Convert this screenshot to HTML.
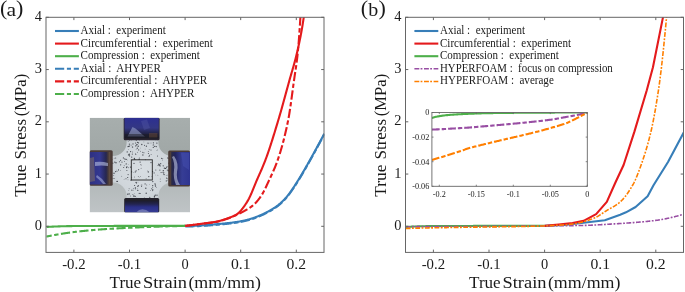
<!DOCTYPE html>
<html><head><meta charset="utf-8"><title>Stress-strain</title>
<style>html,body{margin:0;padding:0;background:#fff;overflow:hidden}svg{display:block;will-change:transform}</style>
</head><body>
<svg width="685" height="292" viewBox="0 0 685 292">
<defs>
<clipPath id="ca"><rect x="46.30" y="17.30" width="278.00" height="235.10"/></clipPath>
<clipPath id="cb"><rect x="405.70" y="17.30" width="278.00" height="235.10"/></clipPath>
<clipPath id="ci"><rect x="431.9" y="112.5" width="155.4" height="73.8"/></clipPath>
<clipPath id="cp"><rect x="89.6" y="117.7" width="100.4" height="94.8"/></clipPath>
<linearGradient id="bg" x1="0" y1="0" x2="0" y2="1"><stop offset="0" stop-color="#a7aead"/><stop offset="0.35" stop-color="#a1a8a7"/><stop offset="0.72" stop-color="#b4babb"/><stop offset="1" stop-color="#bfc4c6"/></linearGradient>
<radialGradient id="sp" cx="0.5" cy="0.5" r="0.6"><stop offset="0" stop-color="#d8dde2"/><stop offset="0.6" stop-color="#d0d6db"/><stop offset="1" stop-color="#c2c8cd"/></radialGradient>
<linearGradient id="gt" x1="0" y1="0" x2="0" y2="1"><stop offset="0" stop-color="#2d2f92"/><stop offset="0.5" stop-color="#333783"/><stop offset="0.75" stop-color="#23244a"/><stop offset="1" stop-color="#1a1a22"/></linearGradient>
<linearGradient id="gl" x1="0" y1="0" x2="1" y2="0"><stop offset="0" stop-color="#2e3080"/><stop offset="0.5" stop-color="#343891"/><stop offset="0.8" stop-color="#262750"/><stop offset="0.9" stop-color="#46393a"/><stop offset="1" stop-color="#6a5444"/></linearGradient>
<linearGradient id="gr" x1="0" y1="0" x2="1" y2="0"><stop offset="0" stop-color="#5a4638"/><stop offset="0.08" stop-color="#2a2a48"/><stop offset="0.25" stop-color="#22245e"/><stop offset="0.6" stop-color="#363d95"/><stop offset="1" stop-color="#2e3490"/></linearGradient>
<linearGradient id="gb" x1="0" y1="0" x2="0" y2="1"><stop offset="0" stop-color="#1c1c2a"/><stop offset="0.3" stop-color="#23244f"/><stop offset="0.55" stop-color="#2b3088"/><stop offset="1" stop-color="#363c94"/></linearGradient>
</defs>
<style>text{font-family:"Liberation Serif",serif;fill:#1a1a1a}.tk{font-size:14.4px}.al{font-size:16.2px}.lg{font-size:11.8px}.pl{font-size:22px}.pl2{font-size:18px}.it{font-size:8.2px}</style>
<rect width="685" height="292" fill="#fff"/>
<text x="0.00" y="15.40" class="pl">(</text><text x="6.40" y="15.60" class="pl2" textLength="9.60" lengthAdjust="spacingAndGlyphs">a</text><text x="16.00" y="15.40" class="pl">)</text>
<text x="73.90" y="269.20" class="tk" text-anchor="middle" textLength="23.40" lengthAdjust="spacingAndGlyphs">-0.2</text>
<text x="129.50" y="269.20" class="tk" text-anchor="middle" textLength="23.40" lengthAdjust="spacingAndGlyphs">-0.1</text>
<text x="185.10" y="269.20" class="tk" text-anchor="middle">0</text>
<text x="240.70" y="269.20" class="tk" text-anchor="middle" textLength="19.60" lengthAdjust="spacingAndGlyphs">0.1</text>
<text x="296.30" y="269.20" class="tk" text-anchor="middle" textLength="19.60" lengthAdjust="spacingAndGlyphs">0.2</text>
<text x="42.00" y="229.80" class="tk" text-anchor="end">0</text>
<text x="42.00" y="177.55" class="tk" text-anchor="end">1</text>
<text x="42.00" y="125.30" class="tk" text-anchor="end">2</text>
<text x="42.00" y="73.05" class="tk" text-anchor="end">3</text>
<text x="42.00" y="20.80" class="tk" text-anchor="end">4</text>
<text x="109.60" y="287.80" class="al" textLength="31.60" lengthAdjust="spacingAndGlyphs">True</text>
<text x="143.00" y="287.80" class="al" textLength="44.00" lengthAdjust="spacingAndGlyphs">Strain</text>
<text x="188.40" y="287.80" class="al" textLength="72.60" lengthAdjust="spacingAndGlyphs">(mm/mm)</text>
<g transform="translate(26.40,0) rotate(-90)"><text x="-196.70" y="0.00" class="al" textLength="32.20" lengthAdjust="spacingAndGlyphs">True</text><text x="-159.50" y="0.00" class="al" textLength="40.60" lengthAdjust="spacingAndGlyphs">Stress</text><text x="-116.20" y="0.00" class="al" textLength="42.40" lengthAdjust="spacingAndGlyphs">(MPa)</text></g>
<g clip-path="url(#cp)">
<rect x="89.6" y="117.7" width="100.4" height="94.7" fill="url(#bg)"/>
<path d="M126.6,136 V142.5 A13.6,13.6 0 0 1 113,156.1 H108 V182.6 H113 A13.6,13.6 0 0 1 126.6,196.2 V203 H158.4 V196.2 A13.6,13.6 0 0 1 172,182.6 H177 V156.1 H172 A13.6,13.6 0 0 1 158.4,142.5 V136 Z" fill="url(#sp)"/>
<g fill="#2a2d35" opacity="0.85"><circle cx="140.5" cy="136.8" r="0.49"/><circle cx="156.9" cy="143.1" r="0.66"/><circle cx="150.4" cy="137.3" r="0.35"/><circle cx="129.2" cy="146.3" r="0.60"/><circle cx="162.8" cy="158.4" r="0.43"/><circle cx="155.8" cy="175.0" r="0.32"/><circle cx="140.1" cy="162.1" r="0.59"/><circle cx="148.3" cy="171.9" r="0.69"/><circle cx="130.6" cy="151.6" r="0.62"/><circle cx="112.3" cy="159.7" r="0.33"/><circle cx="129.4" cy="140.6" r="0.42"/><circle cx="161.1" cy="172.5" r="0.55"/><circle cx="132.2" cy="147.0" r="0.47"/><circle cx="157.1" cy="140.1" r="0.31"/><circle cx="155.0" cy="183.8" r="0.67"/><circle cx="134.8" cy="159.3" r="0.61"/><circle cx="151.7" cy="188.7" r="0.56"/><circle cx="172.1" cy="157.7" r="0.60"/><circle cx="171.6" cy="157.7" r="0.54"/><circle cx="138.3" cy="176.5" r="0.47"/><circle cx="132.6" cy="147.0" r="0.62"/><circle cx="166.6" cy="178.1" r="0.58"/><circle cx="146.1" cy="178.8" r="0.43"/><circle cx="128.2" cy="164.5" r="0.34"/><circle cx="128.2" cy="141.6" r="0.44"/><circle cx="155.5" cy="199.3" r="0.55"/><circle cx="126.0" cy="178.7" r="0.55"/><circle cx="163.3" cy="170.7" r="0.66"/><circle cx="135.8" cy="154.6" r="0.51"/><circle cx="141.1" cy="168.3" r="0.48"/><circle cx="144.9" cy="199.1" r="0.67"/><circle cx="145.3" cy="159.8" r="0.43"/><circle cx="136.2" cy="198.4" r="0.54"/><circle cx="170.5" cy="171.0" r="0.39"/><circle cx="155.8" cy="169.9" r="0.50"/><circle cx="172.7" cy="159.3" r="0.32"/><circle cx="145.1" cy="183.9" r="0.56"/><circle cx="155.3" cy="139.6" r="0.64"/><circle cx="159.4" cy="165.5" r="0.49"/><circle cx="169.3" cy="159.1" r="0.32"/><circle cx="149.1" cy="156.3" r="0.57"/><circle cx="171.5" cy="159.4" r="0.40"/><circle cx="155.3" cy="195.2" r="0.63"/><circle cx="128.0" cy="179.8" r="0.40"/><circle cx="129.5" cy="155.4" r="0.31"/><circle cx="136.3" cy="140.3" r="0.53"/><circle cx="154.1" cy="172.9" r="0.54"/><circle cx="168.5" cy="170.5" r="0.64"/><circle cx="131.6" cy="145.1" r="0.39"/><circle cx="144.5" cy="145.3" r="0.55"/><circle cx="133.4" cy="195.0" r="0.39"/><circle cx="123.7" cy="167.4" r="0.50"/><circle cx="120.6" cy="160.3" r="0.57"/><circle cx="139.5" cy="139.9" r="0.47"/><circle cx="158.8" cy="164.2" r="0.68"/><circle cx="128.1" cy="174.6" r="0.53"/><circle cx="137.5" cy="152.3" r="0.43"/><circle cx="151.1" cy="154.5" r="0.44"/><circle cx="131.7" cy="157.1" r="0.63"/><circle cx="144.6" cy="137.2" r="0.60"/><circle cx="141.6" cy="186.6" r="0.50"/><circle cx="128.8" cy="190.6" r="0.37"/><circle cx="126.6" cy="167.5" r="0.64"/><circle cx="115.7" cy="158.0" r="0.51"/><circle cx="153.4" cy="142.8" r="0.60"/><circle cx="129.1" cy="193.9" r="0.70"/><circle cx="152.7" cy="185.7" r="0.63"/><circle cx="128.3" cy="149.6" r="0.33"/><circle cx="133.2" cy="172.6" r="0.31"/><circle cx="114.0" cy="178.5" r="0.57"/><circle cx="109.9" cy="178.2" r="0.41"/><circle cx="124.1" cy="179.2" r="0.35"/><circle cx="143.9" cy="141.9" r="0.33"/><circle cx="152.8" cy="187.5" r="0.48"/><circle cx="138.3" cy="185.6" r="0.56"/><circle cx="138.0" cy="182.1" r="0.31"/><circle cx="139.2" cy="193.3" r="0.61"/><circle cx="151.9" cy="176.4" r="0.42"/><circle cx="134.4" cy="177.0" r="0.43"/><circle cx="137.4" cy="142.4" r="0.55"/><circle cx="168.1" cy="158.2" r="0.68"/><circle cx="136.1" cy="170.8" r="0.58"/><circle cx="141.9" cy="185.0" r="0.49"/><circle cx="156.3" cy="150.5" r="0.33"/><circle cx="129.3" cy="154.3" r="0.68"/><circle cx="172.4" cy="181.5" r="0.68"/><circle cx="149.4" cy="155.2" r="0.54"/><circle cx="151.0" cy="143.0" r="0.39"/><circle cx="127.5" cy="166.8" r="0.39"/><circle cx="158.5" cy="165.3" r="0.46"/><circle cx="146.4" cy="146.2" r="0.66"/><circle cx="115.7" cy="171.6" r="0.69"/><circle cx="117.3" cy="181.4" r="0.69"/><circle cx="174.7" cy="158.6" r="0.55"/><circle cx="171.1" cy="176.6" r="0.65"/><circle cx="154.7" cy="138.4" r="0.44"/><circle cx="167.9" cy="166.5" r="0.47"/><circle cx="128.4" cy="146.4" r="0.57"/><circle cx="134.5" cy="193.3" r="0.32"/><circle cx="163.2" cy="165.8" r="0.60"/><circle cx="138.2" cy="146.3" r="0.68"/><circle cx="151.0" cy="150.0" r="0.54"/><circle cx="122.0" cy="162.1" r="0.54"/><circle cx="148.9" cy="143.0" r="0.38"/><circle cx="138.7" cy="169.6" r="0.53"/><circle cx="162.4" cy="160.0" r="0.38"/><circle cx="126.7" cy="137.6" r="0.45"/><circle cx="150.6" cy="190.7" r="0.39"/><circle cx="155.3" cy="184.9" r="0.58"/><circle cx="172.5" cy="173.7" r="0.48"/><circle cx="144.0" cy="136.3" r="0.30"/><circle cx="131.7" cy="177.7" r="0.46"/><circle cx="167.4" cy="180.1" r="0.47"/><circle cx="154.3" cy="197.1" r="0.56"/><circle cx="152.8" cy="181.6" r="0.67"/><circle cx="132.4" cy="152.1" r="0.48"/><circle cx="133.6" cy="190.1" r="0.35"/><circle cx="131.6" cy="171.8" r="0.64"/><circle cx="137.1" cy="144.5" r="0.36"/><circle cx="137.3" cy="188.8" r="0.33"/><circle cx="111.8" cy="178.5" r="0.62"/><circle cx="111.3" cy="170.0" r="0.36"/><circle cx="148.3" cy="143.3" r="0.35"/><circle cx="144.2" cy="197.6" r="0.31"/><circle cx="126.2" cy="163.9" r="0.64"/><circle cx="126.8" cy="166.7" r="0.49"/><circle cx="141.5" cy="165.0" r="0.38"/><circle cx="141.8" cy="144.5" r="0.65"/><circle cx="136.5" cy="200.9" r="0.57"/><circle cx="127.7" cy="177.5" r="0.61"/><circle cx="126.1" cy="159.4" r="0.69"/><circle cx="119.4" cy="161.8" r="0.53"/><circle cx="145.1" cy="149.1" r="0.32"/><circle cx="134.6" cy="185.5" r="0.57"/><circle cx="135.4" cy="188.0" r="0.70"/><circle cx="140.2" cy="193.5" r="0.51"/><circle cx="134.0" cy="200.3" r="0.61"/><circle cx="117.1" cy="171.2" r="0.45"/><circle cx="141.2" cy="185.1" r="0.43"/><circle cx="148.3" cy="151.5" r="0.48"/><circle cx="132.3" cy="154.1" r="0.54"/><circle cx="139.8" cy="200.2" r="0.42"/><circle cx="120.7" cy="164.8" r="0.58"/><circle cx="135.6" cy="143.0" r="0.61"/><circle cx="140.6" cy="148.0" r="0.32"/><circle cx="142.9" cy="155.0" r="0.63"/><circle cx="168.8" cy="163.2" r="0.64"/><circle cx="146.2" cy="193.3" r="0.68"/><circle cx="154.5" cy="196.2" r="0.69"/><circle cx="171.0" cy="175.6" r="0.63"/><circle cx="173.3" cy="166.6" r="0.39"/><circle cx="152.6" cy="139.6" r="0.42"/><circle cx="133.2" cy="188.3" r="0.31"/><circle cx="129.6" cy="155.9" r="0.57"/><circle cx="166.6" cy="167.2" r="0.64"/><circle cx="148.4" cy="153.4" r="0.52"/><circle cx="135.1" cy="138.4" r="0.58"/><circle cx="166.2" cy="175.6" r="0.36"/><circle cx="136.1" cy="149.2" r="0.37"/><circle cx="127.7" cy="194.2" r="0.64"/><circle cx="151.0" cy="162.6" r="0.65"/><circle cx="127.2" cy="151.9" r="0.63"/><circle cx="131.2" cy="138.2" r="0.39"/><circle cx="149.2" cy="149.6" r="0.43"/><circle cx="160.7" cy="163.7" r="0.59"/><circle cx="118.5" cy="169.9" r="0.58"/><circle cx="157.9" cy="175.2" r="0.37"/><circle cx="130.5" cy="200.6" r="0.48"/><circle cx="153.4" cy="147.2" r="0.57"/><circle cx="154.8" cy="146.4" r="0.68"/><circle cx="134.4" cy="158.5" r="0.67"/><circle cx="164.2" cy="172.5" r="0.32"/><circle cx="140.6" cy="176.4" r="0.38"/><circle cx="139.2" cy="177.7" r="0.32"/><circle cx="134.0" cy="195.9" r="0.56"/><circle cx="139.1" cy="159.3" r="0.67"/><circle cx="131.9" cy="190.2" r="0.58"/><circle cx="133.8" cy="188.3" r="0.34"/><circle cx="152.6" cy="171.6" r="0.66"/><circle cx="167.3" cy="170.0" r="0.56"/><circle cx="114.8" cy="162.1" r="0.68"/><circle cx="170.9" cy="163.0" r="0.40"/><circle cx="172.3" cy="168.6" r="0.68"/><circle cx="110.4" cy="174.6" r="0.41"/><circle cx="108.3" cy="167.7" r="0.68"/><circle cx="138.7" cy="149.9" r="0.58"/><circle cx="160.1" cy="165.9" r="0.60"/><circle cx="134.0" cy="196.3" r="0.58"/><circle cx="152.8" cy="189.5" r="0.59"/><circle cx="161.7" cy="158.4" r="0.55"/><circle cx="120.3" cy="170.3" r="0.37"/><circle cx="159.6" cy="164.9" r="0.60"/><circle cx="132.1" cy="198.7" r="0.50"/><circle cx="153.0" cy="147.3" r="0.36"/><circle cx="147.8" cy="142.9" r="0.44"/><circle cx="146.7" cy="185.0" r="0.47"/><circle cx="129.1" cy="188.8" r="0.46"/><circle cx="149.8" cy="197.4" r="0.54"/><circle cx="164.4" cy="168.2" r="0.66"/><circle cx="135.4" cy="196.3" r="0.56"/><circle cx="132.5" cy="194.6" r="0.41"/><circle cx="110.8" cy="167.9" r="0.45"/><circle cx="167.5" cy="157.3" r="0.36"/><circle cx="116.0" cy="162.7" r="0.69"/><circle cx="168.1" cy="170.8" r="0.51"/><circle cx="149.6" cy="184.3" r="0.32"/><circle cx="139.3" cy="157.9" r="0.50"/><circle cx="129.3" cy="144.1" r="0.59"/><circle cx="167.6" cy="178.3" r="0.42"/><circle cx="137.3" cy="148.2" r="0.67"/><circle cx="124.8" cy="158.9" r="0.56"/><circle cx="157.4" cy="165.3" r="0.36"/><circle cx="135.5" cy="189.1" r="0.41"/><circle cx="135.4" cy="153.8" r="0.45"/><circle cx="130.5" cy="167.1" r="0.63"/><circle cx="131.0" cy="180.2" r="0.59"/><circle cx="157.3" cy="150.0" r="0.39"/><circle cx="174.2" cy="174.2" r="0.60"/><circle cx="121.7" cy="176.2" r="0.42"/><circle cx="140.5" cy="164.8" r="0.44"/><circle cx="157.5" cy="156.0" r="0.54"/><circle cx="136.0" cy="199.5" r="0.63"/><circle cx="167.2" cy="175.1" r="0.45"/><circle cx="160.2" cy="179.0" r="0.46"/><circle cx="163.7" cy="173.8" r="0.50"/><circle cx="153.2" cy="145.0" r="0.58"/><circle cx="137.1" cy="144.4" r="0.52"/><circle cx="124.6" cy="161.5" r="0.49"/><circle cx="140.6" cy="151.3" r="0.43"/><circle cx="114.0" cy="173.2" r="0.70"/><circle cx="147.4" cy="170.9" r="0.38"/><circle cx="153.7" cy="144.8" r="0.38"/><circle cx="160.2" cy="181.6" r="0.46"/><circle cx="152.7" cy="190.6" r="0.59"/><circle cx="157.0" cy="195.2" r="0.62"/><circle cx="137.8" cy="186.4" r="0.56"/><circle cx="147.2" cy="143.4" r="0.31"/><circle cx="133.0" cy="143.9" r="0.56"/><circle cx="137.8" cy="190.4" r="0.59"/><circle cx="172.8" cy="169.1" r="0.53"/><circle cx="156.3" cy="187.7" r="0.40"/><circle cx="145.8" cy="188.3" r="0.68"/><circle cx="135.7" cy="145.9" r="0.59"/><circle cx="133.6" cy="138.9" r="0.34"/><circle cx="147.5" cy="138.3" r="0.61"/><circle cx="157.7" cy="136.3" r="0.56"/><circle cx="128.5" cy="154.9" r="0.64"/><circle cx="112.8" cy="163.1" r="0.68"/><circle cx="113.8" cy="175.5" r="0.40"/><circle cx="123.4" cy="157.9" r="0.59"/><circle cx="136.1" cy="182.5" r="0.67"/><circle cx="143.9" cy="152.7" r="0.55"/><circle cx="114.2" cy="158.2" r="0.42"/><circle cx="171.9" cy="172.4" r="0.46"/><circle cx="126.9" cy="170.4" r="0.51"/><circle cx="165.6" cy="168.4" r="0.69"/><circle cx="111.4" cy="175.5" r="0.47"/><circle cx="128.4" cy="167.7" r="0.46"/><circle cx="171.0" cy="170.6" r="0.46"/><circle cx="127.3" cy="160.0" r="0.33"/><circle cx="136.6" cy="144.9" r="0.54"/><circle cx="124.2" cy="165.7" r="0.46"/><circle cx="129.8" cy="145.1" r="0.50"/><circle cx="132.9" cy="160.6" r="0.32"/><circle cx="131.2" cy="140.1" r="0.39"/><circle cx="128.5" cy="146.8" r="0.34"/><circle cx="163.1" cy="172.3" r="0.66"/><circle cx="134.0" cy="163.4" r="0.55"/><circle cx="142.7" cy="152.3" r="0.52"/><circle cx="171.3" cy="172.3" r="0.48"/><circle cx="130.4" cy="196.0" r="0.44"/><circle cx="166.3" cy="180.9" r="0.57"/><circle cx="148.8" cy="176.6" r="0.65"/><circle cx="127.7" cy="146.7" r="0.43"/><circle cx="135.3" cy="171.9" r="0.61"/><circle cx="159.9" cy="170.1" r="0.56"/><circle cx="116.8" cy="170.1" r="0.31"/><circle cx="138.5" cy="142.8" r="0.65"/><circle cx="164.1" cy="174.6" r="0.67"/><circle cx="116.6" cy="181.2" r="0.47"/><circle cx="155.5" cy="186.1" r="0.67"/><circle cx="171.6" cy="171.2" r="0.67"/><circle cx="136.5" cy="183.0" r="0.51"/><circle cx="156.3" cy="146.6" r="0.56"/></g>
<rect x="123.7" y="117.7" width="35.9" height="22.5" rx="1.5" fill="#2a2430"/>
<rect x="124.5" y="117.7" width="34.3" height="20.5" fill="url(#gt)"/>
<path d="M127.5,136.5 L132.5,127 L135.5,128.5 L143,135 L145,136.5 Z" fill="#98a2cc" opacity="0.6"/>
<path d="M141,121 L147,119.5 L150,128 L144,130 Z" fill="#5a5fa8" opacity="0.35"/>
<path d="M125,134 L158,134 L158,138.5 L125,138.5 Z" fill="#1a1a24" opacity="0.5"/>
<rect x="149" y="133" width="8.5" height="4.5" fill="#6a4a3a" opacity="0.5"/>
<rect x="89.6" y="150.3" width="23.1" height="35.5" rx="1.5" fill="#4a3a36"/>
<rect x="89.6" y="152" width="20.6" height="32.5" fill="url(#gl)"/>
<path d="M90,158 L94,157 L95,181 L90,182 Z" fill="#7a6a68" opacity="0.6"/>
<path d="M95,162 Q102,161 108,163 L108,166 Q101,165 95,166 Z" fill="#b8c0e0" opacity="0.6"/>
<path d="M97,175 Q102,178 106,184 L103,184 Q100,180 96,177 Z" fill="#a0a8d8" opacity="0.6"/>
<rect x="168.2" y="150.4" width="21.8" height="36" rx="1.5" fill="#4a3a36"/>
<rect x="170.2" y="152" width="19.8" height="33" fill="url(#gr)"/>
<path d="M174,156 Q179,163 177,172 Q176,179 180,185 L176,185 Q173,178 174,170 Q175,163 172,157 Z" fill="#c0c6e0" opacity="0.6"/>
<path d="M181,153 L189,153 L189,170 L183,166 Z" fill="#4550b0" opacity="0.5"/>
<rect x="124.2" y="198" width="35" height="14.4" rx="1.5" fill="#22202a"/>
<rect x="125" y="200.5" width="33.4" height="11.9" fill="url(#gb)"/>
<path d="M136,212.4 Q142,206 150,212.4 Z" fill="#9098c4" opacity="0.6"/>
<rect x="131.3" y="159.8" width="21" height="20.2" fill="none" stroke="#262626" stroke-width="0.9"/>
</g>
<g clip-path="url(#ca)" fill="none" stroke-width="2.1" stroke-linejoin="round">
<path d="M46.30,226.94 L46.65,226.92 L47.00,226.91 L47.35,226.89 L47.69,226.87 L48.04,226.85 L48.39,226.83 L48.74,226.81 L49.09,226.80 L49.44,226.78 L49.78,226.76 L50.13,226.74 L50.48,226.73 L50.83,226.71 L51.18,226.69 L51.53,226.68 L51.87,226.66 L52.22,226.64 L52.57,226.63 L52.92,226.61 L53.27,226.60 L53.62,226.58 L53.96,226.57 L54.31,226.55 L54.66,226.54 L55.01,226.52 L55.36,226.51 L55.71,226.50 L56.05,226.48 L56.40,226.47 L56.75,226.46 L57.10,226.44 L57.45,226.43 L57.80,226.42 L58.14,226.40 L58.49,226.39 L58.84,226.38 L59.19,226.37 L59.54,226.36 L59.89,226.35 L60.23,226.33 L60.58,226.32 L60.93,226.31 L61.28,226.30 L61.63,226.29 L61.98,226.28 L62.33,226.27 L62.67,226.26 L63.02,226.25 L63.37,226.24 L63.72,226.23 L64.07,226.22 L64.42,226.22 L64.76,226.21 L65.11,226.20 L65.46,226.19 L65.81,226.18 L66.16,226.18 L66.51,226.17 L66.85,226.16 L67.20,226.15 L67.55,226.15 L67.90,226.14 L68.25,226.13 L68.60,226.13 L68.94,226.12 L69.29,226.12 L69.64,226.11 L69.99,226.10 L70.34,226.10 L70.69,226.09 L71.03,226.09 L71.38,226.09 L71.73,226.08 L72.08,226.08 L72.43,226.07 L72.78,226.07 L73.12,226.07 L73.47,226.06 L73.82,226.06 L74.17,226.06 L74.52,226.05 L74.87,226.05 L75.21,226.05 L75.56,226.04 L75.91,226.04 L76.26,226.04 L76.61,226.03 L76.96,226.03 L77.31,226.03 L77.65,226.03 L78.00,226.02 L78.35,226.02 L78.70,226.02 L79.05,226.02 L79.40,226.01 L79.74,226.01 L80.09,226.01 L80.44,226.01 L80.79,226.01 L81.14,226.00 L81.49,226.00 L81.83,226.00 L82.18,226.00 L82.53,226.00 L82.88,226.00 L83.23,226.00 L83.58,225.99 L83.92,225.99 L84.27,225.99 L84.62,225.99 L84.97,225.99 L85.32,225.99 L85.67,225.99 L86.01,225.99 L86.36,225.98 L86.71,225.98 L87.06,225.98 L87.41,225.98 L87.76,225.98 L88.10,225.98 L88.45,225.98 L88.80,225.98 L89.15,225.97 L89.50,225.97 L89.85,225.97 L90.19,225.97 L90.54,225.97 L90.89,225.97 L91.24,225.97 L91.59,225.97 L91.94,225.97 L92.28,225.97 L92.63,225.96 L92.98,225.96 L93.33,225.96 L93.68,225.96 L94.03,225.96 L94.38,225.96 L94.72,225.96 L95.07,225.96 L95.42,225.96 L95.77,225.96 L96.12,225.96 L96.47,225.95 L96.81,225.95 L97.16,225.95 L97.51,225.95 L97.86,225.95 L98.21,225.95 L98.56,225.95 L98.90,225.95 L99.25,225.95 L99.60,225.95 L99.95,225.95 L100.30,225.95 L100.65,225.95 L100.99,225.94 L101.34,225.94 L101.69,225.94 L102.04,225.94 L102.39,225.94 L102.74,225.94 L103.08,225.94 L103.43,225.94 L103.78,225.94 L104.13,225.94 L104.48,225.94 L104.83,225.94 L105.17,225.94 L105.52,225.94 L105.87,225.94 L106.22,225.93 L106.57,225.93 L106.92,225.93 L107.26,225.93 L107.61,225.93 L107.96,225.93 L108.31,225.93 L108.66,225.93 L109.01,225.93 L109.36,225.93 L109.70,225.93 L110.05,225.93 L110.40,225.93 L110.75,225.93 L111.10,225.93 L111.45,225.93 L111.79,225.93 L112.14,225.93 L112.49,225.93 L112.84,225.93 L113.19,225.93 L113.54,225.93 L113.88,225.92 L114.23,225.92 L114.58,225.92 L114.93,225.92 L115.28,225.92 L115.63,225.92 L115.97,225.92 L116.32,225.92 L116.67,225.92 L117.02,225.92 L117.37,225.92 L117.72,225.92 L118.06,225.92 L118.41,225.92 L118.76,225.92 L119.11,225.92 L119.46,225.92 L119.81,225.92 L120.15,225.92 L120.50,225.92 L120.85,225.92 L121.20,225.92 L121.55,225.92 L121.90,225.92 L122.24,225.92 L122.59,225.92 L122.94,225.92 L123.29,225.92 L123.64,225.92 L123.99,225.92 L124.34,225.92 L124.68,225.92 L125.03,225.92 L125.38,225.92 L125.73,225.92 L126.08,225.92 L126.43,225.92 L126.77,225.92 L127.12,225.92 L127.47,225.92 L127.82,225.91 L128.17,225.91 L128.52,225.91 L128.86,225.91 L129.21,225.91 L129.56,225.91 L129.91,225.91 L130.26,225.91 L130.61,225.91 L130.95,225.91 L131.30,225.91 L131.65,225.91 L132.00,225.91 L132.35,225.91 L132.70,225.91 L133.04,225.91 L133.39,225.91 L133.74,225.91 L134.09,225.91 L134.44,225.91 L134.79,225.91 L135.13,225.91 L135.48,225.91 L135.83,225.91 L136.18,225.91 L136.53,225.91 L136.88,225.91 L137.22,225.91 L137.57,225.91 L137.92,225.91 L138.27,225.91 L138.62,225.91 L138.97,225.91 L139.32,225.91 L139.66,225.91 L140.01,225.91 L140.36,225.91 L140.71,225.91 L141.06,225.91 L141.41,225.91 L141.75,225.91 L142.10,225.91 L142.45,225.91 L142.80,225.91 L143.15,225.91 L143.50,225.91 L143.84,225.91 L144.19,225.91 L144.54,225.91 L144.89,225.91 L145.24,225.91 L145.59,225.91 L145.93,225.91 L146.28,225.91 L146.63,225.91 L146.98,225.91 L147.33,225.91 L147.68,225.91 L148.02,225.91 L148.37,225.91 L148.72,225.91 L149.07,225.91 L149.42,225.91 L149.77,225.91 L150.11,225.91 L150.46,225.91 L150.81,225.91 L151.16,225.91 L151.51,225.91 L151.86,225.91 L152.20,225.91 L152.55,225.91 L152.90,225.90 L153.25,225.90 L153.60,225.90 L153.95,225.90 L154.29,225.90 L154.64,225.90 L154.99,225.90 L155.34,225.90 L155.69,225.90 L156.04,225.90 L156.39,225.90 L156.73,225.90 L157.08,225.90 L157.43,225.90 L157.78,225.90 L158.13,225.90 L158.48,225.90 L158.82,225.90 L159.17,225.90 L159.52,225.90 L159.87,225.90 L160.22,225.90 L160.57,225.90 L160.91,225.90 L161.26,225.90 L161.61,225.90 L161.96,225.90 L162.31,225.90 L162.66,225.90 L163.00,225.90 L163.35,225.90 L163.70,225.90 L164.05,225.90 L164.40,225.90 L164.75,225.90 L165.09,225.90 L165.44,225.90 L165.79,225.90 L166.14,225.90 L166.49,225.90 L166.84,225.90 L167.18,225.90 L167.53,225.90 L167.88,225.90 L168.23,225.90 L168.58,225.90 L168.93,225.90 L169.27,225.90 L169.62,225.90 L169.97,225.90 L170.32,225.90 L170.67,225.90 L171.02,225.90 L171.37,225.90 L171.71,225.90 L172.06,225.90 L172.41,225.90 L172.76,225.90 L173.11,225.90 L173.46,225.90 L173.80,225.90 L174.15,225.90 L174.50,225.90 L174.85,225.90 L175.20,225.90 L175.55,225.90 L175.89,225.90 L176.24,225.90 L176.59,225.90 L176.94,225.90 L177.29,225.90 L177.64,225.90 L177.98,225.90 L178.33,225.90 L178.68,225.90 L179.03,225.90 L179.38,225.90 L179.73,225.90 L180.07,225.90 L180.42,225.90 L180.77,225.90 L181.12,225.90 L181.47,225.90 L181.82,225.90 L182.16,225.90 L182.51,225.90 L182.86,225.90 L183.21,225.90 L183.56,225.90 L183.91,225.90 L184.25,225.90 L184.60,225.90 L184.95,225.90 L185.30,225.90" stroke="#4daf4a"/>
<path d="M46.30,236.60 L46.65,236.53 L47.00,236.46 L47.35,236.39 L47.69,236.32 L48.04,236.26 L48.39,236.19 L48.74,236.12 L49.09,236.05 L49.44,235.98 L49.78,235.92 L50.13,235.85 L50.48,235.78 L50.83,235.72 L51.18,235.65 L51.53,235.58 L51.87,235.52 L52.22,235.45 L52.57,235.39 L52.92,235.32 L53.27,235.26 L53.62,235.19 L53.96,235.13 L54.31,235.06 L54.66,235.00 L55.01,234.94 L55.36,234.87 L55.71,234.81 L56.05,234.75 L56.40,234.69 L56.75,234.62 L57.10,234.56 L57.45,234.50 L57.80,234.44 L58.14,234.38 L58.49,234.32 L58.84,234.26 L59.19,234.20 L59.54,234.14 L59.89,234.08 L60.23,234.02 L60.58,233.97 L60.93,233.91 L61.28,233.85 L61.63,233.79 L61.98,233.74 L62.33,233.68 L62.67,233.63 L63.02,233.57 L63.37,233.51 L63.72,233.46 L64.07,233.40 L64.42,233.35 L64.76,233.30 L65.11,233.24 L65.46,233.19 L65.81,233.14 L66.16,233.09 L66.51,233.03 L66.85,232.98 L67.20,232.93 L67.55,232.88 L67.90,232.83 L68.25,232.78 L68.60,232.73 L68.94,232.68 L69.29,232.63 L69.64,232.59 L69.99,232.54 L70.34,232.49 L70.69,232.44 L71.03,232.40 L71.38,232.35 L71.73,232.31 L72.08,232.26 L72.43,232.22 L72.78,232.17 L73.12,232.13 L73.47,232.08 L73.82,232.04 L74.17,232.00 L74.52,231.96 L74.87,231.92 L75.21,231.87 L75.56,231.83 L75.91,231.79 L76.26,231.75 L76.61,231.71 L76.96,231.67 L77.31,231.63 L77.65,231.59 L78.00,231.55 L78.35,231.51 L78.70,231.47 L79.05,231.43 L79.40,231.39 L79.74,231.35 L80.09,231.31 L80.44,231.28 L80.79,231.24 L81.14,231.20 L81.49,231.16 L81.83,231.13 L82.18,231.09 L82.53,231.05 L82.88,231.01 L83.23,230.98 L83.58,230.94 L83.92,230.91 L84.27,230.87 L84.62,230.83 L84.97,230.80 L85.32,230.76 L85.67,230.73 L86.01,230.69 L86.36,230.66 L86.71,230.63 L87.06,230.59 L87.41,230.56 L87.76,230.52 L88.10,230.49 L88.45,230.46 L88.80,230.43 L89.15,230.39 L89.50,230.36 L89.85,230.33 L90.19,230.30 L90.54,230.26 L90.89,230.23 L91.24,230.20 L91.59,230.17 L91.94,230.14 L92.28,230.11 L92.63,230.08 L92.98,230.05 L93.33,230.02 L93.68,229.99 L94.03,229.96 L94.38,229.93 L94.72,229.90 L95.07,229.87 L95.42,229.84 L95.77,229.81 L96.12,229.78 L96.47,229.76 L96.81,229.73 L97.16,229.70 L97.51,229.67 L97.86,229.65 L98.21,229.62 L98.56,229.59 L98.90,229.57 L99.25,229.54 L99.60,229.51 L99.95,229.49 L100.30,229.46 L100.65,229.44 L100.99,229.41 L101.34,229.39 L101.69,229.36 L102.04,229.34 L102.39,229.31 L102.74,229.29 L103.08,229.26 L103.43,229.24 L103.78,229.21 L104.13,229.19 L104.48,229.17 L104.83,229.14 L105.17,229.12 L105.52,229.10 L105.87,229.07 L106.22,229.05 L106.57,229.03 L106.92,229.01 L107.26,228.98 L107.61,228.96 L107.96,228.94 L108.31,228.92 L108.66,228.90 L109.01,228.88 L109.36,228.85 L109.70,228.83 L110.05,228.81 L110.40,228.79 L110.75,228.77 L111.10,228.75 L111.45,228.73 L111.79,228.71 L112.14,228.69 L112.49,228.67 L112.84,228.65 L113.19,228.63 L113.54,228.61 L113.88,228.59 L114.23,228.57 L114.58,228.55 L114.93,228.53 L115.28,228.51 L115.63,228.49 L115.97,228.47 L116.32,228.45 L116.67,228.43 L117.02,228.42 L117.37,228.40 L117.72,228.38 L118.06,228.36 L118.41,228.34 L118.76,228.32 L119.11,228.30 L119.46,228.29 L119.81,228.27 L120.15,228.25 L120.50,228.23 L120.85,228.21 L121.20,228.20 L121.55,228.18 L121.90,228.16 L122.24,228.14 L122.59,228.13 L122.94,228.11 L123.29,228.09 L123.64,228.07 L123.99,228.06 L124.34,228.04 L124.68,228.02 L125.03,228.00 L125.38,227.99 L125.73,227.97 L126.08,227.95 L126.43,227.94 L126.77,227.92 L127.12,227.90 L127.47,227.89 L127.82,227.87 L128.17,227.85 L128.52,227.84 L128.86,227.82 L129.21,227.80 L129.56,227.79 L129.91,227.77 L130.26,227.75 L130.61,227.74 L130.95,227.72 L131.30,227.70 L131.65,227.69 L132.00,227.67 L132.35,227.65 L132.70,227.64 L133.04,227.62 L133.39,227.61 L133.74,227.59 L134.09,227.57 L134.44,227.56 L134.79,227.54 L135.13,227.52 L135.48,227.51 L135.83,227.49 L136.18,227.48 L136.53,227.46 L136.88,227.45 L137.22,227.43 L137.57,227.41 L137.92,227.40 L138.27,227.38 L138.62,227.37 L138.97,227.35 L139.32,227.34 L139.66,227.32 L140.01,227.31 L140.36,227.29 L140.71,227.27 L141.06,227.26 L141.41,227.24 L141.75,227.23 L142.10,227.21 L142.45,227.20 L142.80,227.18 L143.15,227.17 L143.50,227.16 L143.84,227.14 L144.19,227.13 L144.54,227.11 L144.89,227.10 L145.24,227.08 L145.59,227.07 L145.93,227.05 L146.28,227.04 L146.63,227.03 L146.98,227.01 L147.33,227.00 L147.68,226.98 L148.02,226.97 L148.37,226.96 L148.72,226.94 L149.07,226.93 L149.42,226.92 L149.77,226.90 L150.11,226.89 L150.46,226.88 L150.81,226.86 L151.16,226.85 L151.51,226.84 L151.86,226.83 L152.20,226.81 L152.55,226.80 L152.90,226.79 L153.25,226.77 L153.60,226.76 L153.95,226.75 L154.29,226.74 L154.64,226.73 L154.99,226.71 L155.34,226.70 L155.69,226.69 L156.04,226.68 L156.39,226.67 L156.73,226.66 L157.08,226.64 L157.43,226.63 L157.78,226.62 L158.13,226.61 L158.48,226.60 L158.82,226.59 L159.17,226.58 L159.52,226.57 L159.87,226.56 L160.22,226.54 L160.57,226.53 L160.91,226.52 L161.26,226.51 L161.61,226.50 L161.96,226.49 L162.31,226.48 L162.66,226.47 L163.00,226.46 L163.35,226.45 L163.70,226.44 L164.05,226.43 L164.40,226.42 L164.75,226.41 L165.09,226.40 L165.44,226.39 L165.79,226.38 L166.14,226.37 L166.49,226.36 L166.84,226.35 L167.18,226.34 L167.53,226.33 L167.88,226.32 L168.23,226.31 L168.58,226.30 L168.93,226.29 L169.27,226.28 L169.62,226.27 L169.97,226.26 L170.32,226.25 L170.67,226.24 L171.02,226.23 L171.37,226.22 L171.71,226.21 L172.06,226.20 L172.41,226.19 L172.76,226.18 L173.11,226.17 L173.46,226.17 L173.80,226.16 L174.15,226.15 L174.50,226.14 L174.85,226.13 L175.20,226.12 L175.55,226.11 L175.89,226.10 L176.24,226.10 L176.59,226.09 L176.94,226.08 L177.29,226.07 L177.64,226.06 L177.98,226.05 L178.33,226.05 L178.68,226.04 L179.03,226.03 L179.38,226.02 L179.73,226.01 L180.07,226.01 L180.42,226.00 L180.77,225.99 L181.12,225.98 L181.47,225.98 L181.82,225.97 L182.16,225.96 L182.51,225.95 L182.86,225.95 L183.21,225.94 L183.56,225.93 L183.91,225.93 L184.25,225.92 L184.60,225.91 L184.95,225.91 L185.30,225.90" stroke="#4daf4a" stroke-dasharray="9.2 2.5 4.4 2.5" stroke-dashoffset="3.7"/>
<path d="M185.30,225.94 L185.65,225.93 L186.00,225.92 L186.35,225.91 L186.69,225.90 L187.04,225.89 L187.39,225.88 L187.74,225.88 L188.09,225.87 L188.44,225.86 L188.78,225.85 L189.13,225.84 L189.48,225.83 L189.83,225.82 L190.18,225.81 L190.53,225.80 L190.87,225.79 L191.22,225.78 L191.57,225.77 L191.92,225.76 L192.27,225.75 L192.62,225.74 L192.96,225.73 L193.31,225.72 L193.66,225.70 L194.01,225.69 L194.36,225.68 L194.71,225.67 L195.05,225.66 L195.40,225.64 L195.75,225.63 L196.10,225.62 L196.45,225.61 L196.80,225.59 L197.14,225.58 L197.49,225.56 L197.84,225.55 L198.19,225.53 L198.54,225.52 L198.89,225.50 L199.23,225.49 L199.58,225.47 L199.93,225.45 L200.28,225.44 L200.63,225.42 L200.98,225.40 L201.33,225.38 L201.67,225.37 L202.02,225.35 L202.37,225.33 L202.72,225.31 L203.07,225.29 L203.42,225.27 L203.76,225.24 L204.11,225.22 L204.46,225.20 L204.81,225.18 L205.16,225.15 L205.51,225.13 L205.85,225.10 L206.20,225.08 L206.55,225.05 L206.90,225.03 L207.25,225.00 L207.60,224.98 L207.94,224.95 L208.29,224.92 L208.64,224.89 L208.99,224.87 L209.34,224.84 L209.69,224.81 L210.03,224.78 L210.38,224.75 L210.73,224.72 L211.08,224.69 L211.43,224.66 L211.78,224.63 L212.12,224.60 L212.47,224.57 L212.82,224.54 L213.17,224.51 L213.52,224.48 L213.87,224.45 L214.21,224.42 L214.56,224.39 L214.91,224.36 L215.26,224.32 L215.61,224.29 L215.96,224.26 L216.31,224.23 L216.65,224.20 L217.00,224.17 L217.35,224.14 L217.70,224.11 L218.05,224.07 L218.40,224.04 L218.74,224.01 L219.09,223.98 L219.44,223.95 L219.79,223.91 L220.14,223.88 L220.49,223.85 L220.83,223.82 L221.18,223.78 L221.53,223.75 L221.88,223.72 L222.23,223.69 L222.58,223.65 L222.92,223.62 L223.27,223.59 L223.62,223.55 L223.97,223.52 L224.32,223.48 L224.67,223.45 L225.01,223.42 L225.36,223.38 L225.71,223.35 L226.06,223.31 L226.41,223.27 L226.76,223.24 L227.10,223.20 L227.45,223.16 L227.80,223.13 L228.15,223.09 L228.50,223.05 L228.85,223.01 L229.19,222.97 L229.54,222.93 L229.89,222.89 L230.24,222.85 L230.59,222.81 L230.94,222.77 L231.28,222.72 L231.63,222.68 L231.98,222.64 L232.33,222.59 L232.68,222.55 L233.03,222.50 L233.38,222.46 L233.72,222.41 L234.07,222.36 L234.42,222.31 L234.77,222.26 L235.12,222.21 L235.47,222.16 L235.81,222.11 L236.16,222.06 L236.51,222.00 L236.86,221.95 L237.21,221.89 L237.56,221.84 L237.90,221.78 L238.25,221.72 L238.60,221.66 L238.95,221.60 L239.30,221.54 L239.65,221.48 L239.99,221.42 L240.34,221.35 L240.69,221.29 L241.04,221.22 L241.39,221.15 L241.74,221.08 L242.08,221.02 L242.43,220.94 L242.78,220.87 L243.13,220.80 L243.48,220.72 L243.83,220.65 L244.17,220.57 L244.52,220.49 L244.87,220.42 L245.22,220.33 L245.57,220.25 L245.92,220.17 L246.26,220.08 L246.61,220.00 L246.96,219.91 L247.31,219.82 L247.66,219.73 L248.01,219.63 L248.36,219.54 L248.70,219.44 L249.05,219.35 L249.40,219.25 L249.75,219.14 L250.10,219.04 L250.45,218.94 L250.79,218.83 L251.14,218.72 L251.49,218.61 L251.84,218.50 L252.19,218.39 L252.54,218.27 L252.88,218.15 L253.23,218.04 L253.58,217.92 L253.93,217.79 L254.28,217.67 L254.63,217.55 L254.97,217.42 L255.32,217.29 L255.67,217.16 L256.02,217.03 L256.37,216.90 L256.72,216.76 L257.06,216.63 L257.41,216.49 L257.76,216.35 L258.11,216.21 L258.46,216.07 L258.81,215.92 L259.15,215.78 L259.50,215.63 L259.85,215.48 L260.20,215.33 L260.55,215.18 L260.90,215.03 L261.24,214.87 L261.59,214.72 L261.94,214.56 L262.29,214.40 L262.64,214.24 L262.99,214.08 L263.34,213.92 L263.68,213.75 L264.03,213.59 L264.38,213.42 L264.73,213.25 L265.08,213.08 L265.43,212.91 L265.77,212.74 L266.12,212.56 L266.47,212.39 L266.82,212.21 L267.17,212.03 L267.52,211.85 L267.86,211.66 L268.21,211.48 L268.56,211.29 L268.91,211.10 L269.26,210.91 L269.61,210.72 L269.95,210.53 L270.30,210.33 L270.65,210.13 L271.00,209.93 L271.35,209.72 L271.70,209.52 L272.04,209.31 L272.39,209.10 L272.74,208.88 L273.09,208.67 L273.44,208.45 L273.79,208.22 L274.13,208.00 L274.48,207.77 L274.83,207.53 L275.18,207.30 L275.53,207.06 L275.88,206.81 L276.22,206.56 L276.57,206.31 L276.92,206.06 L277.27,205.80 L277.62,205.53 L277.97,205.26 L278.32,204.99 L278.66,204.71 L279.01,204.43 L279.36,204.14 L279.71,203.85 L280.06,203.55 L280.41,203.25 L280.75,202.94 L281.10,202.63 L281.45,202.31 L281.80,201.99 L282.15,201.66 L282.50,201.32 L282.84,200.98 L283.19,200.63 L283.54,200.28 L283.89,199.92 L284.24,199.55 L284.59,199.18 L284.93,198.80 L285.28,198.42 L285.63,198.03 L285.98,197.63 L286.33,197.23 L286.68,196.82 L287.02,196.40 L287.37,195.97 L287.72,195.55 L288.07,195.11 L288.42,194.67 L288.77,194.22 L289.11,193.76 L289.46,193.30 L289.81,192.83 L290.16,192.36 L290.51,191.88 L290.86,191.40 L291.20,190.91 L291.55,190.41 L291.90,189.91 L292.25,189.41 L292.60,188.90 L292.95,188.39 L293.29,187.87 L293.64,187.35 L293.99,186.82 L294.34,186.30 L294.69,185.76 L295.04,185.23 L295.39,184.69 L295.73,184.15 L296.08,183.60 L296.43,183.05 L296.78,182.50 L297.13,181.95 L297.48,181.39 L297.82,180.83 L298.17,180.27 L298.52,179.71 L298.87,179.14 L299.22,178.57 L299.57,178.00 L299.91,177.43 L300.26,176.85 L300.61,176.27 L300.96,175.69 L301.31,175.11 L301.66,174.52 L302.00,173.93 L302.35,173.34 L302.70,172.75 L303.05,172.16 L303.40,171.56 L303.75,170.97 L304.09,170.37 L304.44,169.77 L304.79,169.16 L305.14,168.56 L305.49,167.95 L305.84,167.35 L306.18,166.74 L306.53,166.13 L306.88,165.51 L307.23,164.90 L307.58,164.29 L307.93,163.67 L308.27,163.05 L308.62,162.44 L308.97,161.82 L309.32,161.20 L309.67,160.57 L310.02,159.95 L310.37,159.33 L310.71,158.70 L311.06,158.08 L311.41,157.45 L311.76,156.82 L312.11,156.19 L312.46,155.56 L312.80,154.93 L313.15,154.30 L313.50,153.67 L313.85,153.03 L314.20,152.40 L314.55,151.76 L314.89,151.12 L315.24,150.49 L315.59,149.85 L315.94,149.21 L316.29,148.57 L316.64,147.93 L316.98,147.29 L317.33,146.65 L317.68,146.00 L318.03,145.36 L318.38,144.71 L318.73,144.07 L319.07,143.42 L319.42,142.78 L319.77,142.13 L320.12,141.48 L320.47,140.83 L320.82,140.19 L321.16,139.54 L321.51,138.89 L321.86,138.24 L322.21,137.59 L322.56,136.94 L322.91,136.29 L323.25,135.63 L323.60,134.98 L323.95,134.33 L324.30,133.68" stroke="#377eb8"/>
<path d="M185.30,226.54 L185.65,226.53 L186.00,226.52 L186.35,226.51 L186.69,226.50 L187.04,226.49 L187.39,226.48 L187.74,226.48 L188.09,226.47 L188.44,226.46 L188.78,226.45 L189.13,226.44 L189.48,226.43 L189.83,226.42 L190.18,226.41 L190.53,226.40 L190.87,226.39 L191.22,226.38 L191.57,226.37 L191.92,226.36 L192.27,226.35 L192.62,226.34 L192.96,226.33 L193.31,226.32 L193.66,226.30 L194.01,226.29 L194.36,226.28 L194.71,226.27 L195.05,226.26 L195.40,226.24 L195.75,226.23 L196.10,226.22 L196.45,226.21 L196.80,226.19 L197.14,226.18 L197.49,226.16 L197.84,226.15 L198.19,226.13 L198.54,226.12 L198.89,226.10 L199.23,226.09 L199.58,226.07 L199.93,226.05 L200.28,226.04 L200.63,226.02 L200.98,226.00 L201.33,225.98 L201.67,225.97 L202.02,225.95 L202.37,225.93 L202.72,225.91 L203.07,225.89 L203.42,225.87 L203.76,225.84 L204.11,225.82 L204.46,225.80 L204.81,225.78 L205.16,225.75 L205.51,225.73 L205.85,225.70 L206.20,225.68 L206.55,225.65 L206.90,225.63 L207.25,225.60 L207.60,225.58 L207.94,225.55 L208.29,225.52 L208.64,225.49 L208.99,225.47 L209.34,225.44 L209.69,225.41 L210.03,225.38 L210.38,225.35 L210.73,225.32 L211.08,225.29 L211.43,225.26 L211.78,225.23 L212.12,225.20 L212.47,225.17 L212.82,225.14 L213.17,225.11 L213.52,225.08 L213.87,225.05 L214.21,225.02 L214.56,224.99 L214.91,224.96 L215.26,224.92 L215.61,224.89 L215.96,224.86 L216.31,224.83 L216.65,224.80 L217.00,224.77 L217.35,224.74 L217.70,224.71 L218.05,224.67 L218.40,224.64 L218.74,224.61 L219.09,224.58 L219.44,224.55 L219.79,224.51 L220.14,224.48 L220.49,224.45 L220.83,224.42 L221.18,224.38 L221.53,224.35 L221.88,224.32 L222.23,224.29 L222.58,224.25 L222.92,224.22 L223.27,224.19 L223.62,224.15 L223.97,224.12 L224.32,224.08 L224.67,224.05 L225.01,224.02 L225.36,223.98 L225.71,223.95 L226.06,223.91 L226.41,223.87 L226.76,223.84 L227.10,223.80 L227.45,223.76 L227.80,223.73 L228.15,223.69 L228.50,223.65 L228.85,223.61 L229.19,223.57 L229.54,223.53 L229.89,223.49 L230.24,223.45 L230.59,223.41 L230.94,223.37 L231.28,223.32 L231.63,223.28 L231.98,223.24 L232.33,223.19 L232.68,223.15 L233.03,223.10 L233.38,223.06 L233.72,223.01 L234.07,222.96 L234.42,222.91 L234.77,222.86 L235.12,222.81 L235.47,222.76 L235.81,222.71 L236.16,222.66 L236.51,222.60 L236.86,222.55 L237.21,222.49 L237.56,222.44 L237.90,222.38 L238.25,222.32 L238.60,222.26 L238.95,222.20 L239.30,222.14 L239.65,222.08 L239.99,222.02 L240.34,221.95 L240.69,221.89 L241.04,221.82 L241.39,221.75 L241.74,221.68 L242.08,221.62 L242.43,221.54 L242.78,221.47 L243.13,221.40 L243.48,221.32 L243.83,221.25 L244.17,221.17 L244.52,221.09 L244.87,221.02 L245.22,220.93 L245.57,220.85 L245.92,220.77 L246.26,220.68 L246.61,220.60 L246.96,220.51 L247.31,220.42 L247.66,220.33 L248.01,220.23 L248.36,220.14 L248.70,220.04 L249.05,219.95 L249.40,219.85 L249.75,219.74 L250.10,219.64 L250.45,219.54 L250.79,219.43 L251.14,219.32 L251.49,219.21 L251.84,219.10 L252.19,218.99 L252.54,218.87 L252.88,218.75 L253.23,218.64 L253.58,218.52 L253.93,218.39 L254.28,218.27 L254.63,218.15 L254.97,218.02 L255.32,217.89 L255.67,217.76 L256.02,217.63 L256.37,217.50 L256.72,217.36 L257.06,217.23 L257.41,217.09 L257.76,216.95 L258.11,216.81 L258.46,216.67 L258.81,216.52 L259.15,216.38 L259.50,216.23 L259.85,216.08 L260.20,215.93 L260.55,215.78 L260.90,215.63 L261.24,215.47 L261.59,215.32 L261.94,215.16 L262.29,215.00 L262.64,214.84 L262.99,214.68 L263.34,214.52 L263.68,214.35 L264.03,214.19 L264.38,214.02 L264.73,213.85 L265.08,213.68 L265.43,213.51 L265.77,213.34 L266.12,213.16 L266.47,212.99 L266.82,212.81 L267.17,212.63 L267.52,212.45 L267.86,212.26 L268.21,212.08 L268.56,211.89 L268.91,211.70 L269.26,211.51 L269.61,211.32 L269.95,211.13 L270.30,210.93 L270.65,210.73 L271.00,210.53 L271.35,210.32 L271.70,210.12 L272.04,209.91 L272.39,209.70 L272.74,209.48 L273.09,209.27 L273.44,209.05 L273.79,208.82 L274.13,208.60 L274.48,208.37 L274.83,208.13 L275.18,207.90 L275.53,207.66 L275.88,207.41 L276.22,207.16 L276.57,206.91 L276.92,206.66 L277.27,206.40 L277.62,206.13 L277.97,205.86 L278.32,205.59 L278.66,205.31 L279.01,205.03 L279.36,204.74 L279.71,204.45 L280.06,204.15 L280.41,203.85 L280.75,203.54 L281.10,203.23 L281.45,202.91 L281.80,202.59 L282.15,202.26 L282.50,201.92 L282.84,201.58 L283.19,201.23 L283.54,200.88 L283.89,200.52 L284.24,200.15 L284.59,199.78 L284.93,199.40 L285.28,199.02 L285.63,198.63 L285.98,198.23 L286.33,197.83 L286.68,197.42 L287.02,197.00 L287.37,196.57 L287.72,196.15 L288.07,195.71 L288.42,195.27 L288.77,194.82 L289.11,194.36 L289.46,193.90 L289.81,193.43 L290.16,192.96 L290.51,192.48 L290.86,192.00 L291.20,191.51 L291.55,191.01 L291.90,190.51 L292.25,190.01 L292.60,189.50 L292.95,188.99 L293.29,188.47 L293.64,187.95 L293.99,187.42 L294.34,186.90 L294.69,186.36 L295.04,185.83 L295.39,185.29 L295.73,184.75 L296.08,184.20 L296.43,183.65 L296.78,183.10 L297.13,182.55 L297.48,181.99 L297.82,181.43 L298.17,180.87 L298.52,180.31 L298.87,179.74 L299.22,179.17 L299.57,178.60 L299.91,178.03 L300.26,177.45 L300.61,176.87 L300.96,176.29 L301.31,175.71 L301.66,175.12 L302.00,174.53 L302.35,173.94 L302.70,173.35 L303.05,172.76 L303.40,172.16 L303.75,171.57 L304.09,170.97 L304.44,170.37 L304.79,169.76 L305.14,169.16 L305.49,168.55 L305.84,167.95 L306.18,167.34 L306.53,166.73 L306.88,166.11 L307.23,165.50 L307.58,164.89 L307.93,164.27 L308.27,163.65 L308.62,163.04 L308.97,162.42 L309.32,161.80 L309.67,161.17 L310.02,160.55 L310.37,159.93 L310.71,159.30 L311.06,158.68 L311.41,158.05 L311.76,157.42 L312.11,156.79 L312.46,156.16 L312.80,155.53 L313.15,154.90 L313.50,154.27 L313.85,153.63 L314.20,153.00 L314.55,152.36 L314.89,151.72 L315.24,151.09 L315.59,150.45 L315.94,149.81 L316.29,149.17 L316.64,148.53 L316.98,147.89 L317.33,147.25 L317.68,146.60 L318.03,145.96 L318.38,145.31 L318.73,144.67 L319.07,144.02 L319.42,143.38 L319.77,142.73 L320.12,142.08 L320.47,141.43 L320.82,140.79 L321.16,140.14 L321.51,139.49 L321.86,138.84 L322.21,138.19 L322.56,137.54 L322.91,136.89 L323.25,136.23 L323.60,135.58 L323.95,134.93 L324.30,134.28" stroke="#377eb8" stroke-dasharray="9.2 2.5 4.4 2.5"/>
<path d="M185.30,225.90 L185.61,225.86 L185.91,225.82 L186.22,225.78 L186.53,225.74 L186.83,225.70 L187.14,225.67 L187.45,225.63 L187.75,225.59 L188.06,225.55 L188.37,225.51 L188.67,225.47 L188.98,225.43 L189.29,225.39 L189.59,225.35 L189.90,225.31 L190.21,225.27 L190.51,225.23 L190.82,225.19 L191.12,225.15 L191.43,225.11 L191.74,225.07 L192.04,225.03 L192.35,224.99 L192.66,224.95 L192.96,224.91 L193.27,224.87 L193.58,224.83 L193.88,224.79 L194.19,224.75 L194.50,224.71 L194.80,224.67 L195.11,224.62 L195.42,224.58 L195.72,224.54 L196.03,224.50 L196.34,224.46 L196.64,224.42 L196.95,224.38 L197.26,224.34 L197.56,224.30 L197.87,224.26 L198.18,224.22 L198.48,224.17 L198.79,224.13 L199.10,224.09 L199.40,224.05 L199.71,224.01 L200.02,223.97 L200.32,223.93 L200.63,223.88 L200.93,223.84 L201.24,223.80 L201.55,223.76 L201.85,223.72 L202.16,223.68 L202.47,223.63 L202.77,223.59 L203.08,223.55 L203.39,223.51 L203.69,223.47 L204.00,223.42 L204.31,223.38 L204.61,223.34 L204.92,223.30 L205.23,223.26 L205.53,223.22 L205.84,223.17 L206.15,223.13 L206.45,223.09 L206.76,223.06 L207.07,223.02 L207.37,222.98 L207.68,222.94 L207.99,222.90 L208.29,222.86 L208.60,222.82 L208.91,222.78 L209.21,222.75 L209.52,222.71 L209.83,222.67 L210.13,222.63 L210.44,222.59 L210.75,222.55 L211.05,222.51 L211.36,222.47 L211.66,222.43 L211.97,222.38 L212.28,222.34 L212.58,222.30 L212.89,222.25 L213.20,222.21 L213.50,222.16 L213.81,222.11 L214.12,222.06 L214.42,222.01 L214.73,221.96 L215.04,221.91 L215.34,221.85 L215.65,221.80 L215.96,221.74 L216.26,221.68 L216.57,221.62 L216.88,221.56 L217.18,221.49 L217.49,221.43 L217.80,221.36 L218.10,221.28 L218.41,221.21 L218.72,221.14 L219.02,221.06 L219.33,220.98 L219.64,220.90 L219.94,220.82 L220.25,220.73 L220.56,220.65 L220.86,220.56 L221.17,220.47 L221.47,220.38 L221.78,220.29 L222.09,220.20 L222.39,220.10 L222.70,220.01 L223.01,219.91 L223.31,219.81 L223.62,219.72 L223.93,219.62 L224.23,219.52 L224.54,219.41 L224.85,219.31 L225.15,219.21 L225.46,219.10 L225.77,219.00 L226.07,218.89 L226.38,218.79 L226.69,218.68 L226.99,218.57 L227.30,218.47 L227.61,218.36 L227.91,218.25 L228.22,218.15 L228.53,218.04 L228.83,217.93 L229.14,217.82 L229.45,217.71 L229.75,217.60 L230.06,217.48 L230.37,217.37 L230.67,217.25 L230.98,217.13 L231.28,217.01 L231.59,216.89 L231.90,216.76 L232.20,216.64 L232.51,216.50 L232.82,216.37 L233.12,216.23 L233.43,216.09 L233.74,215.94 L234.04,215.79 L234.35,215.64 L234.66,215.48 L234.96,215.32 L235.27,215.15 L235.58,214.98 L235.88,214.80 L236.19,214.61 L236.50,214.43 L236.80,214.23 L237.11,214.03 L237.42,213.81 L237.72,213.58 L238.03,213.34 L238.34,213.08 L238.64,212.82 L238.95,212.54 L239.26,212.25 L239.56,211.95 L239.87,211.63 L240.18,211.31 L240.48,210.98 L240.79,210.63 L241.10,210.28 L241.40,209.92 L241.71,209.54 L242.01,209.16 L242.32,208.77 L242.63,208.38 L242.93,207.97 L243.24,207.56 L243.55,207.14 L243.85,206.71 L244.16,206.28 L244.47,205.84 L244.77,205.39 L245.08,204.94 L245.39,204.49 L245.69,204.02 L246.00,203.56 L246.31,203.09 L246.61,202.61 L246.92,202.13 L247.23,201.65 L247.53,201.16 L247.84,200.65 L248.15,200.12 L248.45,199.57 L248.76,198.99 L249.07,198.40 L249.37,197.78 L249.68,197.15 L249.99,196.50 L250.29,195.84 L250.60,195.16 L250.91,194.47 L251.21,193.77 L251.52,193.06 L251.82,192.33 L252.13,191.60 L252.44,190.87 L252.74,190.12 L253.05,189.37 L253.36,188.62 L253.66,187.87 L253.97,187.11 L254.28,186.35 L254.58,185.60 L254.89,184.85 L255.20,184.10 L255.50,183.35 L255.81,182.61 L256.12,181.88 L256.42,181.15 L256.73,180.44 L257.04,179.73 L257.34,179.03 L257.65,178.33 L257.96,177.64 L258.26,176.95 L258.57,176.26 L258.88,175.57 L259.18,174.88 L259.49,174.19 L259.80,173.50 L260.10,172.81 L260.41,172.11 L260.72,171.42 L261.02,170.72 L261.33,170.02 L261.64,169.31 L261.94,168.60 L262.25,167.89 L262.55,167.16 L262.86,166.44 L263.17,165.70 L263.47,164.96 L263.78,164.20 L264.09,163.44 L264.39,162.67 L264.70,161.89 L265.01,161.10 L265.31,160.30 L265.62,159.49 L265.93,158.67 L266.23,157.84 L266.54,157.00 L266.85,156.15 L267.15,155.29 L267.46,154.42 L267.77,153.55 L268.07,152.66 L268.38,151.77 L268.69,150.88 L268.99,149.97 L269.30,149.06 L269.61,148.14 L269.91,147.21 L270.22,146.28 L270.53,145.34 L270.83,144.40 L271.14,143.45 L271.45,142.49 L271.75,141.53 L272.06,140.57 L272.36,139.60 L272.67,138.62 L272.98,137.64 L273.28,136.66 L273.59,135.67 L273.90,134.68 L274.20,133.69 L274.51,132.69 L274.82,131.69 L275.12,130.69 L275.43,129.68 L275.74,128.67 L276.04,127.66 L276.35,126.65 L276.66,125.64 L276.96,124.62 L277.27,123.60 L277.58,122.59 L277.88,121.57 L278.19,120.55 L278.50,119.53 L278.80,118.50 L279.11,117.47 L279.42,116.42 L279.72,115.37 L280.03,114.32 L280.34,113.25 L280.64,112.18 L280.95,111.11 L281.26,110.03 L281.56,108.94 L281.87,107.85 L282.17,106.75 L282.48,105.65 L282.79,104.55 L283.09,103.44 L283.40,102.33 L283.71,101.22 L284.01,100.10 L284.32,98.98 L284.63,97.86 L284.93,96.74 L285.24,95.62 L285.55,94.50 L285.85,93.37 L286.16,92.25 L286.47,91.13 L286.77,90.01 L287.08,88.89 L287.39,87.77 L287.69,86.65 L288.00,85.53 L288.31,84.42 L288.61,83.31 L288.92,82.20 L289.23,81.10 L289.53,80.00 L289.84,78.91 L290.15,77.83 L290.45,76.76 L290.76,75.70 L291.07,74.64 L291.37,73.59 L291.68,72.54 L291.99,71.49 L292.29,70.44 L292.60,69.39 L292.90,68.33 L293.21,67.26 L293.52,66.19 L293.82,65.10 L294.13,63.99 L294.44,62.87 L294.74,61.73 L295.05,60.58 L295.36,59.40 L295.66,58.19 L295.97,56.96 L296.28,55.72 L296.58,54.45 L296.89,53.17 L297.20,51.88 L297.50,50.57 L297.81,49.23 L298.12,47.88 L298.42,46.51 L298.73,45.11 L299.04,43.69 L299.34,42.24 L299.65,40.77 L299.96,39.28 L300.26,37.75 L300.57,36.20 L300.88,34.61 L301.18,32.99 L301.49,31.34 L301.80,29.62 L302.10,27.85 L302.41,26.03 L302.71,24.14 L303.02,22.19 L303.33,20.19 L303.63,18.13 L303.94,16.00 L304.25,13.81 L304.55,11.57 L304.86,9.26 L305.17,6.89 L305.47,4.46 L305.78,1.97 L306.09,-0.58" stroke="#e41a1c"/>
<path d="M185.30,225.90 L185.59,225.86 L185.89,225.83 L186.18,225.79 L186.47,225.75 L186.76,225.72 L187.06,225.68 L187.35,225.64 L187.64,225.61 L187.93,225.57 L188.23,225.53 L188.52,225.50 L188.81,225.46 L189.10,225.42 L189.40,225.39 L189.69,225.35 L189.98,225.31 L190.27,225.28 L190.57,225.24 L190.86,225.20 L191.15,225.17 L191.45,225.13 L191.74,225.09 L192.03,225.06 L192.32,225.02 L192.62,224.98 L192.91,224.94 L193.20,224.91 L193.49,224.87 L193.79,224.83 L194.08,224.80 L194.37,224.76 L194.66,224.72 L194.96,224.68 L195.25,224.65 L195.54,224.61 L195.83,224.57 L196.13,224.54 L196.42,224.50 L196.71,224.46 L197.01,224.42 L197.30,224.39 L197.59,224.35 L197.88,224.31 L198.18,224.27 L198.47,224.24 L198.76,224.20 L199.05,224.16 L199.35,224.12 L199.64,224.09 L199.93,224.05 L200.22,224.01 L200.52,223.97 L200.81,223.93 L201.10,223.90 L201.39,223.86 L201.69,223.82 L201.98,223.78 L202.27,223.75 L202.57,223.71 L202.86,223.67 L203.15,223.63 L203.44,223.59 L203.74,223.56 L204.03,223.52 L204.32,223.48 L204.61,223.44 L204.91,223.40 L205.20,223.37 L205.49,223.33 L205.78,223.29 L206.08,223.26 L206.37,223.22 L206.66,223.19 L206.95,223.15 L207.25,223.12 L207.54,223.08 L207.83,223.05 L208.13,223.01 L208.42,222.98 L208.71,222.95 L209.00,222.91 L209.30,222.88 L209.59,222.84 L209.88,222.81 L210.17,222.77 L210.47,222.74 L210.76,222.70 L211.05,222.67 L211.34,222.63 L211.64,222.59 L211.93,222.56 L212.22,222.52 L212.51,222.48 L212.81,222.44 L213.10,222.40 L213.39,222.36 L213.69,222.32 L213.98,222.27 L214.27,222.23 L214.56,222.18 L214.86,222.14 L215.15,222.09 L215.44,222.04 L215.73,221.99 L216.03,221.94 L216.32,221.88 L216.61,221.83 L216.90,221.77 L217.20,221.71 L217.49,221.64 L217.78,221.58 L218.07,221.51 L218.37,221.44 L218.66,221.37 L218.95,221.30 L219.25,221.23 L219.54,221.15 L219.83,221.07 L220.12,220.99 L220.42,220.91 L220.71,220.83 L221.00,220.75 L221.29,220.66 L221.59,220.58 L221.88,220.49 L222.17,220.40 L222.46,220.31 L222.76,220.22 L223.05,220.13 L223.34,220.04 L223.63,219.94 L223.93,219.85 L224.22,219.75 L224.51,219.66 L224.81,219.56 L225.10,219.47 L225.39,219.37 L225.68,219.27 L225.98,219.18 L226.27,219.08 L226.56,218.98 L226.85,218.88 L227.15,218.79 L227.44,218.69 L227.73,218.58 L228.02,218.48 L228.32,218.38 L228.61,218.27 L228.90,218.16 L229.19,218.05 L229.49,217.94 L229.78,217.83 L230.07,217.72 L230.37,217.60 L230.66,217.49 L230.95,217.37 L231.24,217.26 L231.54,217.14 L231.83,217.02 L232.12,216.90 L232.41,216.77 L232.71,216.65 L233.00,216.53 L233.29,216.40 L233.58,216.28 L233.88,216.15 L234.17,216.02 L234.46,215.89 L234.75,215.77 L235.05,215.64 L235.34,215.51 L235.63,215.38 L235.93,215.24 L236.22,215.11 L236.51,214.98 L236.80,214.85 L237.10,214.71 L237.39,214.58 L237.68,214.44 L237.97,214.31 L238.27,214.17 L238.56,214.03 L238.85,213.88 L239.14,213.74 L239.44,213.59 L239.73,213.44 L240.02,213.29 L240.31,213.14 L240.61,212.99 L240.90,212.83 L241.19,212.67 L241.49,212.51 L241.78,212.35 L242.07,212.19 L242.36,212.04 L242.66,211.88 L242.95,211.72 L243.24,211.56 L243.53,211.40 L243.83,211.25 L244.12,211.09 L244.41,210.93 L244.70,210.77 L245.00,210.61 L245.29,210.44 L245.58,210.28 L245.87,210.12 L246.17,209.95 L246.46,209.79 L246.75,209.62 L247.05,209.45 L247.34,209.27 L247.63,209.10 L247.92,208.92 L248.22,208.74 L248.51,208.56 L248.80,208.38 L249.09,208.19 L249.39,208.00 L249.68,207.81 L249.97,207.61 L250.26,207.41 L250.56,207.21 L250.85,207.00 L251.14,206.79 L251.43,206.58 L251.73,206.36 L252.02,206.14 L252.31,205.91 L252.61,205.68 L252.90,205.44 L253.19,205.20 L253.48,204.96 L253.78,204.71 L254.07,204.44 L254.36,204.17 L254.65,203.89 L254.95,203.61 L255.24,203.31 L255.53,203.01 L255.82,202.70 L256.12,202.38 L256.41,202.06 L256.70,201.72 L256.99,201.38 L257.29,201.03 L257.58,200.68 L257.87,200.32 L258.17,199.95 L258.46,199.57 L258.75,199.19 L259.04,198.80 L259.34,198.41 L259.63,198.01 L259.92,197.60 L260.21,197.19 L260.51,196.77 L260.80,196.35 L261.09,195.92 L261.38,195.48 L261.68,195.04 L261.97,194.59 L262.26,194.12 L262.55,193.63 L262.85,193.13 L263.14,192.61 L263.43,192.08 L263.73,191.54 L264.02,190.98 L264.31,190.41 L264.60,189.83 L264.90,189.25 L265.19,188.65 L265.48,188.04 L265.77,187.43 L266.07,186.81 L266.36,186.19 L266.65,185.56 L266.94,184.92 L267.24,184.29 L267.53,183.65 L267.82,183.01 L268.11,182.37 L268.41,181.74 L268.70,181.10 L268.99,180.46 L269.29,179.83 L269.58,179.20 L269.87,178.58 L270.16,177.95 L270.46,177.33 L270.75,176.70 L271.04,176.08 L271.33,175.45 L271.63,174.82 L271.92,174.19 L272.21,173.55 L272.50,172.91 L272.80,172.27 L273.09,171.62 L273.38,170.96 L273.67,170.29 L273.97,169.62 L274.26,168.94 L274.55,168.25 L274.85,167.55 L275.14,166.84 L275.43,166.11 L275.72,165.38 L276.02,164.63 L276.31,163.87 L276.60,163.10 L276.89,162.30 L277.19,161.50 L277.48,160.68 L277.77,159.84 L278.06,158.99 L278.36,158.12 L278.65,157.25 L278.94,156.36 L279.23,155.46 L279.53,154.55 L279.82,153.63 L280.11,152.69 L280.41,151.74 L280.70,150.78 L280.99,149.80 L281.28,148.80 L281.58,147.79 L281.87,146.77 L282.16,145.73 L282.45,144.67 L282.75,143.59 L283.04,142.50 L283.33,141.39 L283.62,140.26 L283.92,139.12 L284.21,137.95 L284.50,136.77 L284.79,135.57 L285.09,134.35 L285.38,133.10 L285.67,131.84 L285.97,130.55 L286.26,129.25 L286.55,127.92 L286.84,126.57 L287.14,125.20 L287.43,123.80 L287.72,122.39 L288.01,120.94 L288.31,119.47 L288.60,117.93 L288.89,116.29 L289.18,114.58 L289.48,112.79 L289.77,110.93 L290.06,109.01 L290.35,107.04 L290.65,105.01 L290.94,102.95 L291.23,100.85 L291.53,98.72 L291.82,96.57 L292.11,94.41 L292.40,92.24 L292.70,90.06 L292.99,87.89 L293.28,85.73 L293.57,83.59 L293.87,81.47 L294.16,79.39 L294.45,77.36 L294.74,75.39 L295.04,73.46 L295.33,71.53 L295.62,69.59 L295.91,67.61 L296.21,65.56 L296.50,63.44 L296.79,61.20 L297.09,58.84 L297.38,56.31 L297.67,53.61 L297.96,50.67 L298.26,47.45 L298.55,43.98 L298.84,40.28 L299.13,36.36 L299.43,32.26 L299.72,27.98 L300.01,23.56 L300.30,19.01 L300.60,14.27 L300.89,9.15 L301.18,3.69 L301.47,-2.07" stroke="#e41a1c" stroke-dasharray="9.2 2.5 4.4 2.5"/>
</g>
<rect x="46.00" y="17.30" width="278.00" height="235.10" fill="none" stroke="#666" stroke-width="1"/>
<path d="M73.90,252.40V249.60M73.90,17.30V20.10M129.50,252.40V249.60M129.50,17.30V20.10M185.10,252.40V249.60M185.10,17.30V20.10M240.70,252.40V249.60M240.70,17.30V20.10M296.30,252.40V249.60M296.30,17.30V20.10M46.00,226.30H48.80M324.00,226.30H321.20M46.00,174.05H48.80M324.00,174.05H321.20M46.00,121.80H48.80M324.00,121.80H321.20M46.00,69.55H48.80M324.00,69.55H321.20M46.00,17.30H48.80M324.00,17.30H321.20" stroke="#666" stroke-width="1" fill="none"/>
<line x1="55" y1="31.0" x2="78.9" y2="31.0" stroke="#377eb8" stroke-width="2.1"/>
<text x="80.60" y="33.90" class="lg" textLength="85.20" lengthAdjust="spacingAndGlyphs" xml:space="preserve">Axial :  experiment</text>
<line x1="55" y1="43.6" x2="78.9" y2="43.6" stroke="#e41a1c" stroke-width="2.1"/>
<text x="80.60" y="46.50" class="lg" textLength="132.20" lengthAdjust="spacingAndGlyphs" xml:space="preserve">Circumferential :  experiment</text>
<line x1="55" y1="56.2" x2="78.9" y2="56.2" stroke="#4daf4a" stroke-width="2.1"/>
<text x="80.60" y="59.10" class="lg" textLength="119.30" lengthAdjust="spacingAndGlyphs" xml:space="preserve">Compression :  experiment</text>
<line x1="55" y1="68.8" x2="78.9" y2="68.8" stroke="#377eb8" stroke-width="2.1" stroke-dasharray="9.2 2.7 4.1 2.8"/>
<text x="80.60" y="71.70" class="lg" textLength="80.30" lengthAdjust="spacingAndGlyphs" xml:space="preserve">Axial :  AHYPER</text>
<line x1="55" y1="81.4" x2="78.9" y2="81.4" stroke="#e41a1c" stroke-width="2.1" stroke-dasharray="9.2 2.7 4.1 2.8"/>
<text x="80.60" y="84.30" class="lg" textLength="126.70" lengthAdjust="spacingAndGlyphs" xml:space="preserve">Circumferential :  AHYPER</text>
<line x1="55" y1="94.0" x2="78.9" y2="94.0" stroke="#4daf4a" stroke-width="2.1" stroke-dasharray="9.2 2.7 4.1 2.8"/>
<text x="80.60" y="96.90" class="lg" textLength="113.80" lengthAdjust="spacingAndGlyphs" xml:space="preserve">Compression :  AHYPER</text>
<text x="360.80" y="15.40" class="pl">(</text><text x="368.20" y="15.60" class="pl2" textLength="10.00" lengthAdjust="spacingAndGlyphs">b</text><text x="378.40" y="15.40" class="pl">)</text>
<text x="433.40" y="269.20" class="tk" text-anchor="middle" textLength="23.40" lengthAdjust="spacingAndGlyphs">-0.2</text>
<text x="489.00" y="269.20" class="tk" text-anchor="middle" textLength="23.40" lengthAdjust="spacingAndGlyphs">-0.1</text>
<text x="544.60" y="269.20" class="tk" text-anchor="middle">0</text>
<text x="600.20" y="269.20" class="tk" text-anchor="middle" textLength="19.60" lengthAdjust="spacingAndGlyphs">0.1</text>
<text x="655.80" y="269.20" class="tk" text-anchor="middle" textLength="19.60" lengthAdjust="spacingAndGlyphs">0.2</text>
<text x="401.50" y="229.80" class="tk" text-anchor="end">0</text>
<text x="401.50" y="177.55" class="tk" text-anchor="end">1</text>
<text x="401.50" y="125.30" class="tk" text-anchor="end">2</text>
<text x="401.50" y="73.05" class="tk" text-anchor="end">3</text>
<text x="401.50" y="20.80" class="tk" text-anchor="end">4</text>
<text x="469.10" y="287.80" class="al" textLength="31.60" lengthAdjust="spacingAndGlyphs">True</text>
<text x="502.50" y="287.80" class="al" textLength="44.00" lengthAdjust="spacingAndGlyphs">Strain</text>
<text x="547.90" y="287.80" class="al" textLength="72.60" lengthAdjust="spacingAndGlyphs">(mm/mm)</text>
<g transform="translate(385.90,0) rotate(-90)"><text x="-196.70" y="0.00" class="al" textLength="32.20" lengthAdjust="spacingAndGlyphs">True</text><text x="-159.50" y="0.00" class="al" textLength="40.60" lengthAdjust="spacingAndGlyphs">Stress</text><text x="-116.20" y="0.00" class="al" textLength="42.40" lengthAdjust="spacingAndGlyphs">(MPa)</text></g>
<g clip-path="url(#cb)" fill="none" stroke-linejoin="round">
<path d="M405.70,226.94 L406.05,226.92 L406.40,226.91 L406.75,226.89 L407.09,226.87 L407.44,226.85 L407.79,226.83 L408.14,226.81 L408.49,226.80 L408.84,226.78 L409.18,226.76 L409.53,226.74 L409.88,226.73 L410.23,226.71 L410.58,226.69 L410.93,226.68 L411.27,226.66 L411.62,226.64 L411.97,226.63 L412.32,226.61 L412.67,226.60 L413.02,226.58 L413.36,226.57 L413.71,226.55 L414.06,226.54 L414.41,226.52 L414.76,226.51 L415.11,226.50 L415.45,226.48 L415.80,226.47 L416.15,226.46 L416.50,226.44 L416.85,226.43 L417.20,226.42 L417.54,226.40 L417.89,226.39 L418.24,226.38 L418.59,226.37 L418.94,226.36 L419.29,226.35 L419.63,226.33 L419.98,226.32 L420.33,226.31 L420.68,226.30 L421.03,226.29 L421.38,226.28 L421.73,226.27 L422.07,226.26 L422.42,226.25 L422.77,226.24 L423.12,226.23 L423.47,226.22 L423.82,226.22 L424.16,226.21 L424.51,226.20 L424.86,226.19 L425.21,226.18 L425.56,226.18 L425.91,226.17 L426.25,226.16 L426.60,226.15 L426.95,226.15 L427.30,226.14 L427.65,226.13 L428.00,226.13 L428.34,226.12 L428.69,226.12 L429.04,226.11 L429.39,226.10 L429.74,226.10 L430.09,226.09 L430.43,226.09 L430.78,226.09 L431.13,226.08 L431.48,226.08 L431.83,226.07 L432.18,226.07 L432.52,226.07 L432.87,226.06 L433.22,226.06 L433.57,226.06 L433.92,226.05 L434.27,226.05 L434.61,226.05 L434.96,226.04 L435.31,226.04 L435.66,226.04 L436.01,226.03 L436.36,226.03 L436.71,226.03 L437.05,226.03 L437.40,226.02 L437.75,226.02 L438.10,226.02 L438.45,226.02 L438.80,226.01 L439.14,226.01 L439.49,226.01 L439.84,226.01 L440.19,226.01 L440.54,226.00 L440.89,226.00 L441.23,226.00 L441.58,226.00 L441.93,226.00 L442.28,226.00 L442.63,226.00 L442.98,225.99 L443.32,225.99 L443.67,225.99 L444.02,225.99 L444.37,225.99 L444.72,225.99 L445.07,225.99 L445.41,225.99 L445.76,225.98 L446.11,225.98 L446.46,225.98 L446.81,225.98 L447.16,225.98 L447.50,225.98 L447.85,225.98 L448.20,225.98 L448.55,225.97 L448.90,225.97 L449.25,225.97 L449.59,225.97 L449.94,225.97 L450.29,225.97 L450.64,225.97 L450.99,225.97 L451.34,225.97 L451.68,225.97 L452.03,225.96 L452.38,225.96 L452.73,225.96 L453.08,225.96 L453.43,225.96 L453.78,225.96 L454.12,225.96 L454.47,225.96 L454.82,225.96 L455.17,225.96 L455.52,225.96 L455.87,225.95 L456.21,225.95 L456.56,225.95 L456.91,225.95 L457.26,225.95 L457.61,225.95 L457.96,225.95 L458.30,225.95 L458.65,225.95 L459.00,225.95 L459.35,225.95 L459.70,225.95 L460.05,225.95 L460.39,225.94 L460.74,225.94 L461.09,225.94 L461.44,225.94 L461.79,225.94 L462.14,225.94 L462.48,225.94 L462.83,225.94 L463.18,225.94 L463.53,225.94 L463.88,225.94 L464.23,225.94 L464.57,225.94 L464.92,225.94 L465.27,225.94 L465.62,225.93 L465.97,225.93 L466.32,225.93 L466.66,225.93 L467.01,225.93 L467.36,225.93 L467.71,225.93 L468.06,225.93 L468.41,225.93 L468.76,225.93 L469.10,225.93 L469.45,225.93 L469.80,225.93 L470.15,225.93 L470.50,225.93 L470.85,225.93 L471.19,225.93 L471.54,225.93 L471.89,225.93 L472.24,225.93 L472.59,225.93 L472.94,225.93 L473.28,225.92 L473.63,225.92 L473.98,225.92 L474.33,225.92 L474.68,225.92 L475.03,225.92 L475.37,225.92 L475.72,225.92 L476.07,225.92 L476.42,225.92 L476.77,225.92 L477.12,225.92 L477.46,225.92 L477.81,225.92 L478.16,225.92 L478.51,225.92 L478.86,225.92 L479.21,225.92 L479.55,225.92 L479.90,225.92 L480.25,225.92 L480.60,225.92 L480.95,225.92 L481.30,225.92 L481.64,225.92 L481.99,225.92 L482.34,225.92 L482.69,225.92 L483.04,225.92 L483.39,225.92 L483.74,225.92 L484.08,225.92 L484.43,225.92 L484.78,225.92 L485.13,225.92 L485.48,225.92 L485.83,225.92 L486.17,225.92 L486.52,225.92 L486.87,225.92 L487.22,225.91 L487.57,225.91 L487.92,225.91 L488.26,225.91 L488.61,225.91 L488.96,225.91 L489.31,225.91 L489.66,225.91 L490.01,225.91 L490.35,225.91 L490.70,225.91 L491.05,225.91 L491.40,225.91 L491.75,225.91 L492.10,225.91 L492.44,225.91 L492.79,225.91 L493.14,225.91 L493.49,225.91 L493.84,225.91 L494.19,225.91 L494.53,225.91 L494.88,225.91 L495.23,225.91 L495.58,225.91 L495.93,225.91 L496.28,225.91 L496.62,225.91 L496.97,225.91 L497.32,225.91 L497.67,225.91 L498.02,225.91 L498.37,225.91 L498.72,225.91 L499.06,225.91 L499.41,225.91 L499.76,225.91 L500.11,225.91 L500.46,225.91 L500.81,225.91 L501.15,225.91 L501.50,225.91 L501.85,225.91 L502.20,225.91 L502.55,225.91 L502.90,225.91 L503.24,225.91 L503.59,225.91 L503.94,225.91 L504.29,225.91 L504.64,225.91 L504.99,225.91 L505.33,225.91 L505.68,225.91 L506.03,225.91 L506.38,225.91 L506.73,225.91 L507.08,225.91 L507.42,225.91 L507.77,225.91 L508.12,225.91 L508.47,225.91 L508.82,225.91 L509.17,225.91 L509.51,225.91 L509.86,225.91 L510.21,225.91 L510.56,225.91 L510.91,225.91 L511.26,225.91 L511.60,225.91 L511.95,225.91 L512.30,225.90 L512.65,225.90 L513.00,225.90 L513.35,225.90 L513.69,225.90 L514.04,225.90 L514.39,225.90 L514.74,225.90 L515.09,225.90 L515.44,225.90 L515.79,225.90 L516.13,225.90 L516.48,225.90 L516.83,225.90 L517.18,225.90 L517.53,225.90 L517.88,225.90 L518.22,225.90 L518.57,225.90 L518.92,225.90 L519.27,225.90 L519.62,225.90 L519.97,225.90 L520.31,225.90 L520.66,225.90 L521.01,225.90 L521.36,225.90 L521.71,225.90 L522.06,225.90 L522.40,225.90 L522.75,225.90 L523.10,225.90 L523.45,225.90 L523.80,225.90 L524.15,225.90 L524.49,225.90 L524.84,225.90 L525.19,225.90 L525.54,225.90 L525.89,225.90 L526.24,225.90 L526.58,225.90 L526.93,225.90 L527.28,225.90 L527.63,225.90 L527.98,225.90 L528.33,225.90 L528.67,225.90 L529.02,225.90 L529.37,225.90 L529.72,225.90 L530.07,225.90 L530.42,225.90 L530.77,225.90 L531.11,225.90 L531.46,225.90 L531.81,225.90 L532.16,225.90 L532.51,225.90 L532.86,225.90 L533.20,225.90 L533.55,225.90 L533.90,225.90 L534.25,225.90 L534.60,225.90 L534.95,225.90 L535.29,225.90 L535.64,225.90 L535.99,225.90 L536.34,225.90 L536.69,225.90 L537.04,225.90 L537.38,225.90 L537.73,225.90 L538.08,225.90 L538.43,225.90 L538.78,225.90 L539.13,225.90 L539.47,225.90 L539.82,225.90 L540.17,225.90 L540.52,225.90 L540.87,225.90 L541.22,225.90 L541.56,225.90 L541.91,225.90 L542.26,225.90 L542.61,225.90 L542.96,225.90 L543.31,225.90 L543.65,225.90 L544.00,225.90 L544.35,225.90 L544.70,225.90" stroke="#4daf4a" stroke-width="2.1"/>
<path d="M544.70,225.90 L564.16,224.86 L583.62,222.72 L604.86,220.31 L620.20,214.68 L625.99,212.33 L635.61,207.00 L647.62,196.20 L653.51,185.29 L668.02,161.95 L683.70,132.46" stroke="#377eb8" stroke-width="2.1"/>
<path d="M544.70,225.90 L558.60,224.59 L572.50,223.08 L583.62,220.89 L596.13,214.10 L606.81,201.89 L615.20,182.99 L623.60,164.98 L634.49,131.42 L646.78,90.18 L652.95,67.21 L662.91,17.62 L667.02,-3.78" stroke="#e41a1c" stroke-width="2.1"/>
<path d="M405.70,226.69 L406.40,226.69 L407.09,226.69 L407.79,226.69 L408.49,226.68 L409.18,226.68 L409.88,226.68 L410.58,226.68 L411.27,226.68 L411.97,226.67 L412.67,226.67 L413.36,226.67 L414.06,226.67 L414.76,226.66 L415.45,226.66 L416.15,226.66 L416.85,226.66 L417.54,226.66 L418.24,226.65 L418.94,226.65 L419.63,226.65 L420.33,226.65 L421.03,226.65 L421.73,226.64 L422.42,226.64 L423.12,226.64 L423.82,226.64 L424.51,226.64 L425.21,226.63 L425.91,226.63 L426.60,226.63 L427.30,226.63 L428.00,226.63 L428.69,226.62 L429.39,226.62 L430.09,226.62 L430.78,226.62 L431.48,226.62 L432.18,226.62 L432.87,226.61 L433.57,226.61 L434.27,226.61 L434.96,226.61 L435.66,226.61 L436.36,226.61 L437.05,226.60 L437.75,226.60 L438.45,226.60 L439.14,226.60 L439.84,226.59 L440.54,226.59 L441.23,226.59 L441.93,226.59 L442.63,226.58 L443.32,226.58 L444.02,226.58 L444.72,226.58 L445.41,226.57 L446.11,226.57 L446.81,226.57 L447.50,226.57 L448.20,226.57 L448.90,226.56 L449.59,226.56 L450.29,226.56 L450.99,226.56 L451.68,226.55 L452.38,226.55 L453.08,226.55 L453.78,226.55 L454.47,226.54 L455.17,226.54 L455.87,226.54 L456.56,226.54 L457.26,226.53 L457.96,226.53 L458.65,226.53 L459.35,226.52 L460.05,226.52 L460.74,226.52 L461.44,226.51 L462.14,226.51 L462.83,226.51 L463.53,226.50 L464.23,226.50 L464.92,226.50 L465.62,226.49 L466.32,226.49 L467.01,226.49 L467.71,226.48 L468.41,226.48 L469.10,226.48 L469.80,226.47 L470.50,226.47 L471.19,226.47 L471.89,226.46 L472.59,226.46 L473.28,226.46 L473.98,226.45 L474.68,226.45 L475.37,226.45 L476.07,226.44 L476.77,226.44 L477.46,226.44 L478.16,226.43 L478.86,226.43 L479.55,226.42 L480.25,226.42 L480.95,226.42 L481.64,226.41 L482.34,226.41 L483.04,226.41 L483.74,226.40 L484.43,226.40 L485.13,226.40 L485.83,226.39 L486.52,226.39 L487.22,226.39 L487.92,226.38 L488.61,226.38 L489.31,226.37 L490.01,226.37 L490.70,226.37 L491.40,226.36 L492.10,226.36 L492.79,226.36 L493.49,226.35 L494.19,226.35 L494.88,226.34 L495.58,226.34 L496.28,226.34 L496.97,226.33 L497.67,226.33 L498.37,226.32 L499.06,226.32 L499.76,226.32 L500.46,226.31 L501.15,226.31 L501.85,226.30 L502.55,226.30 L503.24,226.30 L503.94,226.29 L504.64,226.29 L505.33,226.28 L506.03,226.28 L506.73,226.28 L507.42,226.27 L508.12,226.27 L508.82,226.26 L509.51,226.26 L510.21,226.25 L510.91,226.25 L511.60,226.24 L512.30,226.24 L513.00,226.24 L513.69,226.23 L514.39,226.23 L515.09,226.22 L515.79,226.22 L516.48,226.21 L517.18,226.21 L517.88,226.20 L518.57,226.19 L519.27,226.19 L519.97,226.18 L520.66,226.18 L521.36,226.17 L522.06,226.16 L522.75,226.15 L523.45,226.15 L524.15,226.14 L524.84,226.13 L525.54,226.12 L526.24,226.12 L526.93,226.11 L527.63,226.10 L528.33,226.09 L529.02,226.09 L529.72,226.08 L530.42,226.07 L531.11,226.07 L531.81,226.06 L532.51,226.05 L533.20,226.05 L533.90,226.04 L534.60,226.03 L535.29,226.03 L535.99,226.02 L536.69,226.01 L537.38,226.00 L538.08,225.99 L538.78,225.99 L539.47,225.98 L540.17,225.97 L540.87,225.96 L541.56,225.95 L542.26,225.94 L542.96,225.92 L543.65,225.91 L544.35,225.90 L545.05,225.90 L545.75,225.89 L546.44,225.88 L547.14,225.87 L547.84,225.86 L548.53,225.85 L549.23,225.84 L549.93,225.83 L550.62,225.83 L551.32,225.82 L552.02,225.81 L552.71,225.80 L553.41,225.80 L554.11,225.79 L554.80,225.78 L555.50,225.77 L556.20,225.77 L556.89,225.76 L557.59,225.75 L558.29,225.75 L558.98,225.74 L559.68,225.73 L560.38,225.73 L561.07,225.72 L561.77,225.71 L562.47,225.70 L563.16,225.70 L563.86,225.69 L564.56,225.68 L565.25,225.68 L565.95,225.67 L566.65,225.66 L567.34,225.65 L568.04,225.65 L568.74,225.64 L569.43,225.63 L570.13,225.62 L570.83,225.61 L571.52,225.60 L572.22,225.59 L572.92,225.59 L573.61,225.58 L574.31,225.57 L575.01,225.56 L575.71,225.55 L576.40,225.54 L577.10,225.53 L577.80,225.52 L578.49,225.50 L579.19,225.49 L579.89,225.48 L580.58,225.47 L581.28,225.46 L581.98,225.44 L582.67,225.43 L583.37,225.42 L584.07,225.40 L584.76,225.39 L585.46,225.37 L586.16,225.35 L586.85,225.34 L587.55,225.32 L588.25,225.29 L588.94,225.27 L589.64,225.24 L590.34,225.22 L591.03,225.19 L591.73,225.16 L592.43,225.13 L593.12,225.09 L593.82,225.06 L594.52,225.02 L595.21,224.99 L595.91,224.95 L596.61,224.91 L597.30,224.88 L598.00,224.84 L598.70,224.80 L599.39,224.76 L600.09,224.72 L600.79,224.68 L601.48,224.63 L602.18,224.59 L602.88,224.55 L603.57,224.51 L604.27,224.47 L604.97,224.43 L605.66,224.38 L606.36,224.34 L607.06,224.30 L607.76,224.26 L608.45,224.22 L609.15,224.18 L609.85,224.14 L610.54,224.10 L611.24,224.06 L611.94,224.02 L612.63,223.98 L613.33,223.94 L614.03,223.90 L614.72,223.86 L615.42,223.82 L616.12,223.78 L616.81,223.73 L617.51,223.69 L618.21,223.65 L618.90,223.61 L619.60,223.56 L620.30,223.52 L620.99,223.48 L621.69,223.43 L622.39,223.39 L623.08,223.34 L623.78,223.29 L624.48,223.25 L625.17,223.20 L625.87,223.15 L626.57,223.10 L627.26,223.06 L627.96,223.01 L628.66,222.96 L629.35,222.91 L630.05,222.85 L630.75,222.80 L631.44,222.75 L632.14,222.70 L632.84,222.64 L633.53,222.59 L634.23,222.53 L634.93,222.48 L635.62,222.42 L636.32,222.36 L637.02,222.31 L637.72,222.25 L638.41,222.19 L639.11,222.13 L639.81,222.07 L640.50,222.01 L641.20,221.95 L641.90,221.89 L642.59,221.83 L643.29,221.77 L643.99,221.70 L644.68,221.64 L645.38,221.57 L646.08,221.50 L646.77,221.43 L647.47,221.36 L648.17,221.29 L648.86,221.22 L649.56,221.14 L650.26,221.07 L650.95,220.99 L651.65,220.91 L652.35,220.83 L653.04,220.74 L653.74,220.66 L654.44,220.57 L655.13,220.48 L655.83,220.39 L656.53,220.30 L657.22,220.20 L657.92,220.11 L658.62,220.00 L659.31,219.90 L660.01,219.79 L660.71,219.67 L661.40,219.56 L662.10,219.43 L662.80,219.31 L663.49,219.18 L664.19,219.05 L664.89,218.91 L665.58,218.77 L666.28,218.63 L666.98,218.49 L667.67,218.34 L668.37,218.19 L669.07,218.03 L669.77,217.88 L670.46,217.72 L671.16,217.55 L671.86,217.39 L672.55,217.22 L673.25,217.05 L673.95,216.87 L674.64,216.70 L675.34,216.52 L676.04,216.34 L676.73,216.15 L677.43,215.97 L678.13,215.78 L678.82,215.59 L679.52,215.40 L680.22,215.21 L680.91,215.01 L681.61,214.81 L682.31,214.61 L683.00,214.41 L683.70,214.21" stroke="#984ea3" stroke-width="1.6" stroke-dasharray="4.8 1.5 1.8 1.5"/>
<path d="M405.70,228.48 L406.36,228.46 L407.02,228.44 L407.69,228.42 L408.35,228.40 L409.01,228.38 L409.67,228.36 L410.33,228.35 L411.00,228.33 L411.66,228.31 L412.32,228.29 L412.98,228.27 L413.64,228.25 L414.30,228.24 L414.97,228.22 L415.63,228.20 L416.29,228.18 L416.95,228.17 L417.61,228.15 L418.28,228.14 L418.94,228.12 L419.60,228.10 L420.26,228.09 L420.92,228.07 L421.59,228.06 L422.25,228.04 L422.91,228.03 L423.57,228.01 L424.23,228.00 L424.90,227.98 L425.56,227.97 L426.22,227.95 L426.88,227.94 L427.54,227.93 L428.20,227.91 L428.87,227.90 L429.53,227.89 L430.19,227.88 L430.85,227.86 L431.51,227.85 L432.18,227.84 L432.84,227.83 L433.50,227.82 L434.16,227.81 L434.82,227.80 L435.49,227.79 L436.15,227.77 L436.81,227.76 L437.47,227.75 L438.13,227.74 L438.80,227.73 L439.46,227.72 L440.12,227.70 L440.78,227.69 L441.44,227.68 L442.10,227.67 L442.77,227.66 L443.43,227.65 L444.09,227.63 L444.75,227.62 L445.41,227.61 L446.08,227.60 L446.74,227.59 L447.40,227.57 L448.06,227.56 L448.72,227.55 L449.39,227.54 L450.05,227.52 L450.71,227.51 L451.37,227.50 L452.03,227.49 L452.70,227.47 L453.36,227.46 L454.02,227.45 L454.68,227.44 L455.34,227.42 L456.00,227.41 L456.67,227.40 L457.33,227.39 L457.99,227.38 L458.65,227.37 L459.31,227.36 L459.98,227.35 L460.64,227.34 L461.30,227.33 L461.96,227.32 L462.62,227.31 L463.29,227.30 L463.95,227.29 L464.61,227.29 L465.27,227.28 L465.93,227.27 L466.60,227.26 L467.26,227.25 L467.92,227.24 L468.58,227.23 L469.24,227.22 L469.90,227.21 L470.57,227.20 L471.23,227.19 L471.89,227.19 L472.55,227.18 L473.21,227.17 L473.88,227.16 L474.54,227.15 L475.20,227.14 L475.86,227.13 L476.52,227.12 L477.19,227.11 L477.85,227.10 L478.51,227.10 L479.17,227.09 L479.83,227.08 L480.50,227.07 L481.16,227.06 L481.82,227.05 L482.48,227.04 L483.14,227.03 L483.80,227.03 L484.47,227.02 L485.13,227.01 L485.79,227.00 L486.45,226.99 L487.11,226.98 L487.78,226.97 L488.44,226.97 L489.10,226.96 L489.76,226.95 L490.42,226.94 L491.09,226.93 L491.75,226.92 L492.41,226.91 L493.07,226.91 L493.73,226.90 L494.40,226.89 L495.06,226.88 L495.72,226.87 L496.38,226.86 L497.04,226.85 L497.70,226.84 L498.37,226.84 L499.03,226.83 L499.69,226.82 L500.35,226.81 L501.01,226.80 L501.68,226.79 L502.34,226.78 L503.00,226.77 L503.66,226.76 L504.32,226.75 L504.99,226.74 L505.65,226.73 L506.31,226.72 L506.97,226.72 L507.63,226.71 L508.30,226.70 L508.96,226.69 L509.62,226.68 L510.28,226.67 L510.94,226.66 L511.60,226.65 L512.27,226.64 L512.93,226.63 L513.59,226.62 L514.25,226.60 L514.91,226.59 L515.58,226.58 L516.24,226.57 L516.90,226.56 L517.56,226.55 L518.22,226.54 L518.89,226.53 L519.55,226.52 L520.21,226.51 L520.87,226.50 L521.53,226.49 L522.20,226.48 L522.86,226.47 L523.52,226.46 L524.18,226.44 L524.84,226.43 L525.50,226.42 L526.17,226.41 L526.83,226.40 L527.49,226.38 L528.15,226.37 L528.81,226.36 L529.48,226.34 L530.14,226.33 L530.80,226.31 L531.46,226.29 L532.12,226.27 L532.79,226.26 L533.45,226.24 L534.11,226.22 L534.77,226.20 L535.43,226.18 L536.10,226.16 L536.76,226.14 L537.42,226.12 L538.08,226.10 L538.74,226.08 L539.40,226.07 L540.07,226.05 L540.73,226.03 L541.39,226.01 L542.05,225.99 L542.71,225.97 L543.38,225.95 L544.04,225.92 L544.70,225.90 L545.36,225.88 L546.02,225.85 L546.69,225.82 L547.35,225.80 L548.01,225.77 L548.67,225.74 L549.33,225.71 L550.00,225.68 L550.66,225.66 L551.32,225.62 L551.98,225.59 L552.64,225.56 L553.30,225.53 L553.97,225.50 L554.63,225.46 L555.29,225.43 L555.95,225.39 L556.61,225.35 L557.28,225.32 L557.94,225.28 L558.60,225.24 L559.26,225.20 L559.92,225.16 L560.59,225.12 L561.25,225.07 L561.91,225.03 L562.57,224.99 L563.23,224.94 L563.90,224.89 L564.56,224.84 L565.22,224.79 L565.88,224.74 L566.54,224.69 L567.20,224.63 L567.87,224.57 L568.53,224.51 L569.19,224.44 L569.85,224.38 L570.51,224.31 L571.18,224.23 L571.84,224.15 L572.50,224.07 L573.16,223.99 L573.82,223.89 L574.49,223.78 L575.15,223.67 L575.81,223.55 L576.47,223.43 L577.13,223.29 L577.80,223.15 L578.46,223.01 L579.12,222.86 L579.78,222.70 L580.44,222.54 L581.10,222.38 L581.77,222.21 L582.43,222.04 L583.09,221.86 L583.75,221.69 L584.41,221.51 L585.08,221.32 L585.74,221.12 L586.40,220.92 L587.06,220.71 L587.72,220.49 L588.39,220.27 L589.05,220.04 L589.71,219.80 L590.37,219.56 L591.03,219.31 L591.70,219.05 L592.36,218.78 L593.02,218.51 L593.68,218.23 L594.34,217.94 L595.00,217.65 L595.67,217.35 L596.33,217.04 L596.99,216.70 L597.65,216.35 L598.31,215.97 L598.98,215.57 L599.64,215.16 L600.30,214.74 L600.96,214.31 L601.62,213.87 L602.29,213.43 L602.95,212.98 L603.61,212.53 L604.27,212.09 L604.93,211.65 L605.60,211.23 L606.26,210.81 L606.92,210.40 L607.58,210.01 L608.24,209.62 L608.90,209.25 L609.57,208.87 L610.23,208.50 L610.89,208.13 L611.55,207.76 L612.21,207.38 L612.88,207.00 L613.54,206.61 L614.20,206.22 L614.86,205.81 L615.52,205.39 L616.19,204.96 L616.85,204.50 L617.51,204.03 L618.17,203.54 L618.83,203.03 L619.50,202.49 L620.16,201.93 L620.82,201.33 L621.48,200.70 L622.14,200.03 L622.80,199.33 L623.47,198.59 L624.13,197.82 L624.79,197.02 L625.45,196.18 L626.11,195.31 L626.78,194.41 L627.44,193.47 L628.10,192.51 L628.76,191.52 L629.42,190.50 L630.09,189.45 L630.75,188.38 L631.41,187.28 L632.07,186.15 L632.73,184.99 L633.40,183.81 L634.06,182.55 L634.72,181.20 L635.38,179.77 L636.04,178.25 L636.70,176.67 L637.37,175.03 L638.03,173.33 L638.69,171.58 L639.35,169.80 L640.01,167.99 L640.68,166.15 L641.34,164.29 L642.00,162.41 L642.66,160.49 L643.32,158.54 L643.99,156.54 L644.65,154.49 L645.31,152.39 L645.97,150.24 L646.63,148.02 L647.30,145.73 L647.96,143.37 L648.62,140.93 L649.28,138.41 L649.94,135.81 L650.60,133.11 L651.27,130.30 L651.93,127.34 L652.59,124.20 L653.25,120.90 L653.91,117.44 L654.58,113.84 L655.24,110.10 L655.90,106.23 L656.56,102.23 L657.22,98.12 L657.89,93.90 L658.55,89.58 L659.21,85.00 L659.87,80.09 L660.53,74.89 L661.20,69.45 L661.86,63.78 L662.52,57.82 L663.18,51.61 L663.84,45.17 L664.50,38.54 L665.17,31.77 L665.83,24.89 L666.49,17.93 L667.15,10.84 L667.81,3.53 L668.48,-3.97" stroke="#ff7f00" stroke-width="1.6" stroke-dasharray="4.8 1.5 1.8 1.5"/>
</g>
<rect x="405.50" y="17.30" width="278.00" height="235.10" fill="none" stroke="#666" stroke-width="1"/>
<path d="M433.40,252.40V249.60M433.40,17.30V20.10M489.00,252.40V249.60M489.00,17.30V20.10M544.60,252.40V249.60M544.60,17.30V20.10M600.20,252.40V249.60M600.20,17.30V20.10M655.80,252.40V249.60M655.80,17.30V20.10M405.50,226.30H408.30M683.50,226.30H680.70M405.50,174.05H408.30M683.50,174.05H680.70M405.50,121.80H408.30M683.50,121.80H680.70M405.50,69.55H408.30M683.50,69.55H680.70M405.50,17.30H408.30M683.50,17.30H680.70" stroke="#666" stroke-width="1" fill="none"/>
<line x1="414.4" y1="31.0" x2="438.3" y2="31.0" stroke="#377eb8" stroke-width="2.1"/>
<text x="440.00" y="33.90" class="lg" textLength="85.00" lengthAdjust="spacingAndGlyphs" xml:space="preserve">Axial :  experiment</text>
<line x1="414.4" y1="43.6" x2="438.3" y2="43.6" stroke="#e41a1c" stroke-width="2.1"/>
<text x="440.00" y="46.50" class="lg" textLength="131.00" lengthAdjust="spacingAndGlyphs" xml:space="preserve">Circumferential :  experiment</text>
<line x1="414.4" y1="56.2" x2="438.3" y2="56.2" stroke="#4daf4a" stroke-width="2.1"/>
<text x="440.00" y="59.10" class="lg" textLength="118.80" lengthAdjust="spacingAndGlyphs" xml:space="preserve">Compression :  experiment</text>
<line x1="414.4" y1="68.8" x2="438.3" y2="68.8" stroke="#984ea3" stroke-width="1.5" stroke-dasharray="4.9 1.3 1.8 1.6"/>
<text x="440.00" y="71.70" class="lg" textLength="172.80" lengthAdjust="spacingAndGlyphs" xml:space="preserve">HYPERFOAM :  focus on compression</text>
<line x1="414.4" y1="81.4" x2="438.3" y2="81.4" stroke="#ff7f00" stroke-width="1.5" stroke-dasharray="4.9 1.3 1.8 1.6"/>
<text x="440.00" y="84.30" class="lg" textLength="113.80" lengthAdjust="spacingAndGlyphs" xml:space="preserve">HYPERFOAM :  average</text>
<rect x="431.9" y="112.5" width="155.4" height="73.8" fill="#fff"/>
<g clip-path="url(#ci)" fill="none" stroke-linejoin="round">
<path d="M431.90,117.88 L432.68,117.64 L433.46,117.42 L434.24,117.22 L435.02,117.03 L435.80,116.85 L436.59,116.68 L437.37,116.53 L438.15,116.38 L438.93,116.24 L439.71,116.11 L440.49,115.98 L441.27,115.86 L442.05,115.74 L442.83,115.63 L443.61,115.52 L444.39,115.42 L445.18,115.33 L445.96,115.24 L446.74,115.15 L447.52,115.08 L448.30,115.00 L449.08,114.94 L449.86,114.87 L450.64,114.81 L451.42,114.75 L452.20,114.70 L452.98,114.64 L453.77,114.59 L454.55,114.54 L455.33,114.49 L456.11,114.44 L456.89,114.40 L457.67,114.35 L458.45,114.31 L459.23,114.26 L460.01,114.22 L460.79,114.18 L461.57,114.13 L462.36,114.09 L463.14,114.05 L463.92,114.01 L464.70,113.98 L465.48,113.94 L466.26,113.90 L467.04,113.87 L467.82,113.83 L468.60,113.80 L469.38,113.77 L470.16,113.74 L470.95,113.71 L471.73,113.68 L472.51,113.65 L473.29,113.62 L474.07,113.59 L474.85,113.56 L475.63,113.53 L476.41,113.50 L477.19,113.47 L477.97,113.45 L478.75,113.42 L479.54,113.39 L480.32,113.37 L481.10,113.34 L481.88,113.32 L482.66,113.29 L483.44,113.27 L484.22,113.25 L485.00,113.23 L485.78,113.21 L486.56,113.19 L487.34,113.17 L488.13,113.16 L488.91,113.14 L489.69,113.13 L490.47,113.11 L491.25,113.10 L492.03,113.09 L492.81,113.08 L493.59,113.07 L494.37,113.05 L495.15,113.04 L495.93,113.03 L496.72,113.02 L497.50,113.01 L498.28,113.00 L499.06,112.99 L499.84,112.98 L500.62,112.97 L501.40,112.96 L502.18,112.95 L502.96,112.94 L503.74,112.93 L504.52,112.92 L505.31,112.91 L506.09,112.90 L506.87,112.89 L507.65,112.88 L508.43,112.88 L509.21,112.87 L509.99,112.86 L510.77,112.85 L511.55,112.84 L512.33,112.84 L513.11,112.83 L513.89,112.82 L514.68,112.81 L515.46,112.80 L516.24,112.80 L517.02,112.79 L517.80,112.78 L518.58,112.78 L519.36,112.77 L520.14,112.76 L520.92,112.76 L521.70,112.75 L522.48,112.74 L523.27,112.74 L524.05,112.73 L524.83,112.73 L525.61,112.72 L526.39,112.72 L527.17,112.71 L527.95,112.70 L528.73,112.70 L529.51,112.69 L530.29,112.69 L531.07,112.68 L531.86,112.68 L532.64,112.67 L533.42,112.67 L534.20,112.67 L534.98,112.66 L535.76,112.66 L536.54,112.65 L537.32,112.65 L538.10,112.65 L538.88,112.64 L539.66,112.64 L540.45,112.63 L541.23,112.63 L542.01,112.63 L542.79,112.62 L543.57,112.62 L544.35,112.62 L545.13,112.61 L545.91,112.61 L546.69,112.61 L547.47,112.60 L548.25,112.60 L549.04,112.60 L549.82,112.59 L550.60,112.59 L551.38,112.59 L552.16,112.58 L552.94,112.58 L553.72,112.58 L554.50,112.58 L555.28,112.57 L556.06,112.57 L556.84,112.57 L557.63,112.56 L558.41,112.56 L559.19,112.56 L559.97,112.56 L560.75,112.55 L561.53,112.55 L562.31,112.55 L563.09,112.54 L563.87,112.54 L564.65,112.54 L565.43,112.54 L566.22,112.53 L567.00,112.53 L567.78,112.53 L568.56,112.53 L569.34,112.53 L570.12,112.52 L570.90,112.52 L571.68,112.52 L572.46,112.52 L573.24,112.52 L574.02,112.51 L574.81,112.51 L575.59,112.51 L576.37,112.51 L577.15,112.51 L577.93,112.51 L578.71,112.51 L579.49,112.51 L580.27,112.50 L581.05,112.50 L581.83,112.50 L582.61,112.50 L583.40,112.50 L584.18,112.50 L584.96,112.50 L585.74,112.50 L586.52,112.50 L587.30,112.50" stroke="#4daf4a" stroke-width="2.1"/>
<path d="M431.90,129.61 L432.68,129.57 L433.46,129.54 L434.24,129.50 L435.02,129.47 L435.80,129.44 L436.59,129.40 L437.37,129.37 L438.15,129.34 L438.93,129.31 L439.71,129.27 L440.49,129.24 L441.27,129.20 L442.05,129.17 L442.83,129.13 L443.61,129.09 L444.39,129.05 L445.18,129.00 L445.96,128.96 L446.74,128.91 L447.52,128.86 L448.30,128.81 L449.08,128.76 L449.86,128.71 L450.64,128.67 L451.42,128.62 L452.20,128.57 L452.98,128.53 L453.77,128.48 L454.55,128.43 L455.33,128.39 L456.11,128.34 L456.89,128.30 L457.67,128.25 L458.45,128.20 L459.23,128.16 L460.01,128.11 L460.79,128.06 L461.57,128.01 L462.36,127.97 L463.14,127.92 L463.92,127.87 L464.70,127.83 L465.48,127.78 L466.26,127.73 L467.04,127.68 L467.82,127.63 L468.60,127.58 L469.38,127.52 L470.16,127.47 L470.95,127.41 L471.73,127.35 L472.51,127.29 L473.29,127.22 L474.07,127.16 L474.85,127.09 L475.63,127.02 L476.41,126.96 L477.19,126.89 L477.97,126.82 L478.75,126.75 L479.54,126.68 L480.32,126.62 L481.10,126.55 L481.88,126.49 L482.66,126.42 L483.44,126.35 L484.22,126.29 L485.00,126.22 L485.78,126.15 L486.56,126.09 L487.34,126.02 L488.13,125.95 L488.91,125.89 L489.69,125.82 L490.47,125.75 L491.25,125.68 L492.03,125.62 L492.81,125.55 L493.59,125.48 L494.37,125.41 L495.15,125.35 L495.93,125.28 L496.72,125.21 L497.50,125.14 L498.28,125.07 L499.06,125.00 L499.84,124.94 L500.62,124.87 L501.40,124.80 L502.18,124.73 L502.96,124.66 L503.74,124.59 L504.52,124.52 L505.31,124.45 L506.09,124.38 L506.87,124.30 L507.65,124.23 L508.43,124.16 L509.21,124.09 L509.99,124.02 L510.77,123.94 L511.55,123.87 L512.33,123.80 L513.11,123.72 L513.89,123.65 L514.68,123.57 L515.46,123.50 L516.24,123.43 L517.02,123.35 L517.80,123.28 L518.58,123.20 L519.36,123.13 L520.14,123.05 L520.92,122.97 L521.70,122.90 L522.48,122.82 L523.27,122.75 L524.05,122.67 L524.83,122.59 L525.61,122.51 L526.39,122.44 L527.17,122.36 L527.95,122.28 L528.73,122.20 L529.51,122.12 L530.29,122.04 L531.07,121.96 L531.86,121.88 L532.64,121.79 L533.42,121.71 L534.20,121.63 L534.98,121.54 L535.76,121.46 L536.54,121.37 L537.32,121.29 L538.10,121.20 L538.88,121.11 L539.66,121.03 L540.45,120.94 L541.23,120.85 L542.01,120.76 L542.79,120.67 L543.57,120.58 L544.35,120.49 L545.13,120.40 L545.91,120.30 L546.69,120.21 L547.47,120.11 L548.25,120.01 L549.04,119.91 L549.82,119.81 L550.60,119.70 L551.38,119.60 L552.16,119.48 L552.94,119.37 L553.72,119.25 L554.50,119.12 L555.28,118.99 L556.06,118.86 L556.84,118.72 L557.63,118.58 L558.41,118.43 L559.19,118.29 L559.97,118.14 L560.75,117.99 L561.53,117.84 L562.31,117.69 L563.09,117.54 L563.87,117.39 L564.65,117.24 L565.43,117.10 L566.22,116.96 L567.00,116.82 L567.78,116.68 L568.56,116.54 L569.34,116.41 L570.12,116.27 L570.90,116.14 L571.68,116.00 L572.46,115.87 L573.24,115.73 L574.02,115.59 L574.81,115.45 L575.59,115.30 L576.37,115.15 L577.15,114.99 L577.93,114.83 L578.71,114.67 L579.49,114.49 L580.27,114.31 L581.05,114.11 L581.83,113.92 L582.61,113.71 L583.40,113.51 L584.18,113.30 L584.96,113.09 L585.74,112.89 L586.52,112.69 L587.30,112.50" stroke="#984ea3" stroke-width="2.1" stroke-dasharray="7.8 2 4.4 2"/>
<path d="M431.90,160.08 L432.68,159.81 L433.46,159.54 L434.24,159.28 L435.02,159.03 L435.80,158.79 L436.59,158.55 L437.37,158.32 L438.15,158.08 L438.93,157.85 L439.71,157.62 L440.49,157.39 L441.27,157.15 L442.05,156.91 L442.83,156.67 L443.61,156.42 L444.39,156.18 L445.18,155.93 L445.96,155.68 L446.74,155.44 L447.52,155.19 L448.30,154.94 L449.08,154.70 L449.86,154.45 L450.64,154.20 L451.42,153.96 L452.20,153.72 L452.98,153.47 L453.77,153.23 L454.55,152.98 L455.33,152.74 L456.11,152.49 L456.89,152.25 L457.67,152.00 L458.45,151.75 L459.23,151.49 L460.01,151.23 L460.79,150.96 L461.57,150.70 L462.36,150.43 L463.14,150.16 L463.92,149.89 L464.70,149.62 L465.48,149.36 L466.26,149.10 L467.04,148.84 L467.82,148.59 L468.60,148.35 L469.38,148.11 L470.16,147.88 L470.95,147.66 L471.73,147.44 L472.51,147.22 L473.29,147.01 L474.07,146.80 L474.85,146.60 L475.63,146.40 L476.41,146.20 L477.19,146.00 L477.97,145.81 L478.75,145.61 L479.54,145.42 L480.32,145.23 L481.10,145.04 L481.88,144.85 L482.66,144.66 L483.44,144.47 L484.22,144.29 L485.00,144.10 L485.78,143.91 L486.56,143.72 L487.34,143.53 L488.13,143.34 L488.91,143.15 L489.69,142.95 L490.47,142.77 L491.25,142.58 L492.03,142.39 L492.81,142.20 L493.59,142.01 L494.37,141.83 L495.15,141.64 L495.93,141.45 L496.72,141.27 L497.50,141.08 L498.28,140.90 L499.06,140.71 L499.84,140.53 L500.62,140.35 L501.40,140.16 L502.18,139.98 L502.96,139.79 L503.74,139.61 L504.52,139.43 L505.31,139.25 L506.09,139.06 L506.87,138.88 L507.65,138.70 L508.43,138.52 L509.21,138.34 L509.99,138.16 L510.77,137.99 L511.55,137.81 L512.33,137.63 L513.11,137.45 L513.89,137.28 L514.68,137.10 L515.46,136.92 L516.24,136.74 L517.02,136.56 L517.80,136.38 L518.58,136.20 L519.36,136.02 L520.14,135.84 L520.92,135.66 L521.70,135.47 L522.48,135.29 L523.27,135.10 L524.05,134.92 L524.83,134.73 L525.61,134.54 L526.39,134.35 L527.17,134.16 L527.95,133.98 L528.73,133.79 L529.51,133.60 L530.29,133.41 L531.07,133.22 L531.86,133.02 L532.64,132.83 L533.42,132.64 L534.20,132.44 L534.98,132.24 L535.76,132.05 L536.54,131.85 L537.32,131.65 L538.10,131.45 L538.88,131.25 L539.66,131.04 L540.45,130.84 L541.23,130.63 L542.01,130.42 L542.79,130.21 L543.57,130.00 L544.35,129.78 L545.13,129.57 L545.91,129.35 L546.69,129.13 L547.47,128.92 L548.25,128.69 L549.04,128.47 L549.82,128.25 L550.60,128.03 L551.38,127.80 L552.16,127.57 L552.94,127.35 L553.72,127.12 L554.50,126.90 L555.28,126.68 L556.06,126.46 L556.84,126.24 L557.63,126.02 L558.41,125.79 L559.19,125.57 L559.97,125.34 L560.75,125.10 L561.53,124.86 L562.31,124.61 L563.09,124.36 L563.87,124.10 L564.65,123.82 L565.43,123.54 L566.22,123.25 L567.00,122.93 L567.78,122.60 L568.56,122.25 L569.34,121.89 L570.12,121.52 L570.90,121.14 L571.68,120.76 L572.46,120.37 L573.24,119.98 L574.02,119.60 L574.81,119.21 L575.59,118.82 L576.37,118.43 L577.15,118.02 L577.93,117.62 L578.71,117.21 L579.49,116.79 L580.27,116.38 L581.05,115.96 L581.83,115.55 L582.61,115.14 L583.40,114.73 L584.18,114.32 L584.96,113.90 L585.74,113.46 L586.52,112.99 L587.30,112.50" stroke="#ff7f00" stroke-width="2.1" stroke-dasharray="7.8 2 4.4 2"/>
</g>
<rect x="431.9" y="112.5" width="155.4" height="73.8" fill="none" stroke="#666" stroke-width="0.9"/>
<text x="439.30" y="196.50" class="it" text-anchor="middle">-0.2</text>
<text x="476.30" y="196.50" class="it" text-anchor="middle">-0.15</text>
<text x="513.30" y="196.50" class="it" text-anchor="middle">-0.1</text>
<text x="550.30" y="196.50" class="it" text-anchor="middle">-0.05</text>
<text x="587.30" y="196.50" class="it" text-anchor="middle">0</text>
<text x="429.30" y="115.30" class="it" text-anchor="end">0</text>
<text x="429.30" y="139.90" class="it" text-anchor="end">-0.02</text>
<text x="429.30" y="164.50" class="it" text-anchor="end">-0.04</text>
<text x="429.30" y="189.10" class="it" text-anchor="end">-0.06</text>
<path d="M439.30,186.3V184.70M439.30,112.5V114.10M476.30,186.3V184.70M476.30,112.5V114.10M513.30,186.3V184.70M513.30,112.5V114.10M550.30,186.3V184.70M550.30,112.5V114.10M587.30,186.3V184.70M587.30,112.5V114.10M431.9,112.50H433.50M587.3,112.50H585.70M431.9,137.10H433.50M587.3,137.10H585.70M431.9,161.70H433.50M587.3,161.70H585.70M431.9,186.30H433.50M587.3,186.30H585.70" stroke="#666" stroke-width="0.8" fill="none"/>
</svg>
</body></html>
